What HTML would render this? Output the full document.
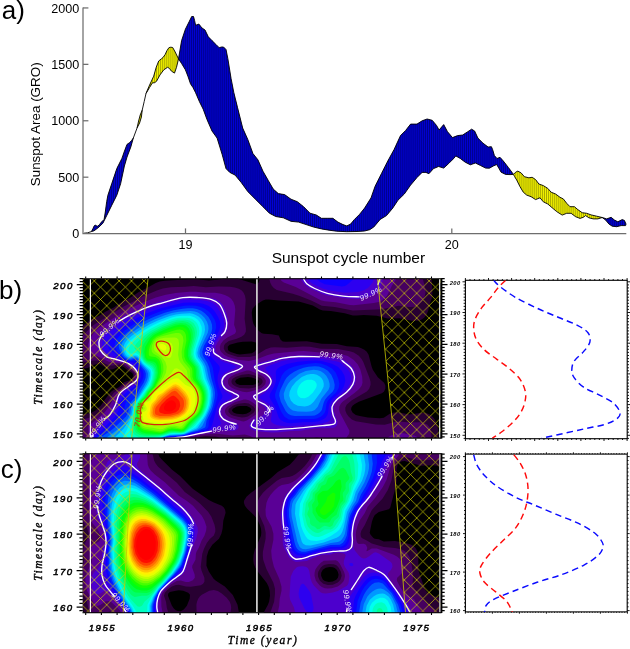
<!DOCTYPE html><html><head><meta charset="utf-8"><title>fig</title><style>html,body{margin:0;padding:0;background:#fff}</style></head><body><div style="will-change:transform;width:630px;height:649px;overflow:hidden"><svg width="630" height="649" viewBox="0 0 630 649" style="display:block;font-family:'Liberation Sans',sans-serif">
<defs>
<pattern id="vh" width="1.95" height="10" patternUnits="userSpaceOnUse"><rect x="0.45" y="0" width="0.68" height="10" fill="#000010" fill-opacity="0.88"/></pattern><pattern id="vhy" width="1.95" height="10" patternUnits="userSpaceOnUse"><rect x="0.4" y="0" width="0.46" height="10" fill="#2a2a00" fill-opacity="0.8"/></pattern>
<pattern id="xh" width="12.4" height="12.4" patternUnits="userSpaceOnUse" patternTransform="translate(94.3,280.9)"><path d="M0,0L12.4,12.4M0,12.4L12.4,0" stroke="#d4d400" stroke-width="0.72" stroke-opacity="0.92" fill="none"/></pattern>
<pattern id="xh2" width="12.4" height="12.4" patternUnits="userSpaceOnUse" patternTransform="translate(94.3,456.0)"><path d="M0,0L12.4,12.4M0,12.4L12.4,0" stroke="#d4d400" stroke-width="0.72" stroke-opacity="0.92" fill="none"/></pattern>
</defs>
<rect width="630" height="649" fill="#fff"/>
<polygon points="91.4,231.6 93.0,228.5 94.0,226.2 95.2,225.0 96.5,225.8 97.8,226.2 99.5,224.5 101.5,222.0 104.1,219.4 105.3,212.0 106.7,201.6 107.9,195.2 111.7,183.8 116.8,168.6 121.9,158.4 124.5,151.0 127.0,144.4 129.5,142.7 131.5,140.6 133.3,138.1 133.3,138.1 130.8,147.0 127.0,157.1 124.4,166.0 120.6,183.8 116.8,195.2 111.7,205.4 106.7,215.6 102.9,223.2 99.0,227.0 96.5,229.0 94.0,230.8 91.4,231.6" fill="#0000f6"/><polygon points="91.4,231.6 93.0,228.5 94.0,226.2 95.2,225.0 96.5,225.8 97.8,226.2 99.5,224.5 101.5,222.0 104.1,219.4 105.3,212.0 106.7,201.6 107.9,195.2 111.7,183.8 116.8,168.6 121.9,158.4 124.5,151.0 127.0,144.4 129.5,142.7 131.5,140.6 133.3,138.1 133.3,138.1 130.8,147.0 127.0,157.1 124.4,166.0 120.6,183.8 116.8,195.2 111.7,205.4 106.7,215.6 102.9,223.2 99.0,227.0 96.5,229.0 94.0,230.8 91.4,231.6" fill="url(#vh)" stroke="#000" stroke-width="0.9" stroke-linejoin="round"/>
<polygon points="137.1,127.9 138.6,121.0 140.2,115.0 142.2,110.2 142.2,110.2 141.4,117.0 139.6,123.0 137.1,127.9" fill="#f4f400"/><polygon points="137.1,127.9 138.6,121.0 140.2,115.0 142.2,110.2 142.2,110.2 141.4,117.0 139.6,123.0 137.1,127.9" fill="url(#vhy)" stroke="#000" stroke-width="0.9" stroke-linejoin="round"/>
<polygon points="146.0,93.5 149.0,86.3 152.0,79.8 153.7,76.2 156.2,67.3 158.7,61.0 161.3,58.9 163.0,57.5 165.1,54.6 167.0,50.5 168.9,47.7 170.8,47.2 172.7,47.5 175.2,52.0 178.5,58.9 178.5,58.9 176.5,67.3 174.5,73.1 171.4,71.1 169.6,68.6 167.6,67.3 163.8,69.8 160.0,74.9 156.5,81.3 154.6,82.7 152.4,82.9 149.5,87.6 146.0,93.5" fill="#f4f400"/><polygon points="146.0,93.5 149.0,86.3 152.0,79.8 153.7,76.2 156.2,67.3 158.7,61.0 161.3,58.9 163.0,57.5 165.1,54.6 167.0,50.5 168.9,47.7 170.8,47.2 172.7,47.5 175.2,52.0 178.5,58.9 178.5,58.9 176.5,67.3 174.5,73.1 171.4,71.1 169.6,68.6 167.6,67.3 163.8,69.8 160.0,74.9 156.5,81.3 154.6,82.7 152.4,82.9 149.5,87.6 146.0,93.5" fill="url(#vhy)" stroke="#000" stroke-width="0.9" stroke-linejoin="round"/>
<polygon points="178.5,58.9 181.6,40.6 185.4,29.2 189.2,21.6 191.7,16.5 193.5,16.5 194.6,20.5 195.6,25.4 197.2,24.6 198.9,24.1 201.9,27.9 205.0,30.0 208.3,36.8 212.0,40.6 215.9,44.4 219.2,47.7 221.5,47.0 223.5,47.0 226.0,49.5 227.8,58.4 231.1,78.7 233.8,92.5 237.6,107.8 242.7,128.1 247.8,139.5 252.9,153.5 257.9,159.8 263.0,171.3 268.1,180.2 273.2,189.0 278.3,193.6 284.6,194.6 291.0,199.2 297.3,201.7 303.7,206.8 310.0,213.2 316.3,215.0 321.4,218.3 327.8,218.3 332.9,218.3 337.9,222.1 343.0,224.6 346.8,225.9 350.6,224.1 354.4,219.5 359.5,214.4 364.6,208.1 371.0,197.9 375.1,186.3 381.4,173.7 387.8,161.0 394.1,149.5 400.5,135.6 405.6,130.5 410.6,124.1 417.0,124.1 422.1,120.8 427.1,119.0 432.2,120.3 436.5,125.4 439.1,130.0 443.7,124.6 447.5,131.7 452.5,137.6 457.6,135.6 462.7,135.0 467.8,131.7 471.6,129.2 474.6,131.0 477.9,138.1 483.0,143.2 488.1,147.0 491.4,146.7 492.6,149.5 494.4,155.6 497.0,158.5 500.0,157.3 503.3,161.0 508.4,167.5 513.5,174.4 513.5,174.4 510.0,174.6 505.6,174.4 501.1,172.2 499.0,168.5 496.7,164.5 493.3,166.0 489.4,168.2 485.6,168.1 480.5,165.5 475.4,163.0 470.3,164.8 465.2,162.2 460.2,158.4 455.8,155.9 453.3,158.9 448.7,163.5 443.7,168.1 438.6,166.5 433.5,168.6 428.9,173.7 425.9,172.4 422.1,172.4 417.0,177.5 410.6,185.1 404.3,194.0 397.9,200.3 392.9,207.9 386.5,215.6 380.2,219.4 373.8,227.0 369.7,229.7 364.6,231.0 357.0,231.5 346.8,231.7 336.7,231.2 329.0,230.2 321.4,228.9 313.8,227.1 306.2,224.6 298.6,222.1 291.0,221.3 283.3,217.8 275.7,216.5 269.4,213.2 263.0,206.8 255.4,199.2 247.8,191.6 241.4,182.7 235.1,175.1 229.8,172.4 226.0,168.6 222.2,154.6 217.1,138.1 212.0,131.0 207.0,119.5 203.2,109.2 199.4,101.6 195.6,92.7 193.0,87.6 190.5,83.8 187.9,76.2 185.4,69.8 181.6,63.5 178.5,58.9" fill="#0000f6"/><polygon points="178.5,58.9 181.6,40.6 185.4,29.2 189.2,21.6 191.7,16.5 193.5,16.5 194.6,20.5 195.6,25.4 197.2,24.6 198.9,24.1 201.9,27.9 205.0,30.0 208.3,36.8 212.0,40.6 215.9,44.4 219.2,47.7 221.5,47.0 223.5,47.0 226.0,49.5 227.8,58.4 231.1,78.7 233.8,92.5 237.6,107.8 242.7,128.1 247.8,139.5 252.9,153.5 257.9,159.8 263.0,171.3 268.1,180.2 273.2,189.0 278.3,193.6 284.6,194.6 291.0,199.2 297.3,201.7 303.7,206.8 310.0,213.2 316.3,215.0 321.4,218.3 327.8,218.3 332.9,218.3 337.9,222.1 343.0,224.6 346.8,225.9 350.6,224.1 354.4,219.5 359.5,214.4 364.6,208.1 371.0,197.9 375.1,186.3 381.4,173.7 387.8,161.0 394.1,149.5 400.5,135.6 405.6,130.5 410.6,124.1 417.0,124.1 422.1,120.8 427.1,119.0 432.2,120.3 436.5,125.4 439.1,130.0 443.7,124.6 447.5,131.7 452.5,137.6 457.6,135.6 462.7,135.0 467.8,131.7 471.6,129.2 474.6,131.0 477.9,138.1 483.0,143.2 488.1,147.0 491.4,146.7 492.6,149.5 494.4,155.6 497.0,158.5 500.0,157.3 503.3,161.0 508.4,167.5 513.5,174.4 513.5,174.4 510.0,174.6 505.6,174.4 501.1,172.2 499.0,168.5 496.7,164.5 493.3,166.0 489.4,168.2 485.6,168.1 480.5,165.5 475.4,163.0 470.3,164.8 465.2,162.2 460.2,158.4 455.8,155.9 453.3,158.9 448.7,163.5 443.7,168.1 438.6,166.5 433.5,168.6 428.9,173.7 425.9,172.4 422.1,172.4 417.0,177.5 410.6,185.1 404.3,194.0 397.9,200.3 392.9,207.9 386.5,215.6 380.2,219.4 373.8,227.0 369.7,229.7 364.6,231.0 357.0,231.5 346.8,231.7 336.7,231.2 329.0,230.2 321.4,228.9 313.8,227.1 306.2,224.6 298.6,222.1 291.0,221.3 283.3,217.8 275.7,216.5 269.4,213.2 263.0,206.8 255.4,199.2 247.8,191.6 241.4,182.7 235.1,175.1 229.8,172.4 226.0,168.6 222.2,154.6 217.1,138.1 212.0,131.0 207.0,119.5 203.2,109.2 199.4,101.6 195.6,92.7 193.0,87.6 190.5,83.8 187.9,76.2 185.4,69.8 181.6,63.5 178.5,58.9" fill="url(#vh)" stroke="#000" stroke-width="0.9" stroke-linejoin="round"/>
<polygon points="513.5,174.4 515.5,172.3 517.8,171.1 521.1,172.9 524.4,176.7 528.9,177.8 532.2,177.3 535.6,179.6 538.9,184.0 543.3,185.6 547.8,188.4 551.1,192.2 555.6,194.0 560.0,197.3 563.3,198.9 566.7,203.3 570.0,206.7 574.4,206.7 577.8,209.6 582.2,212.7 586.7,213.3 591.1,214.9 596.7,216.2 602.2,217.5 602.2,217.5 597.8,218.9 593.3,218.9 588.9,217.8 585.6,215.6 583.3,217.3 580.0,218.4 575.6,216.7 571.1,213.3 566.7,213.3 562.2,215.1 556.7,211.6 552.2,207.8 547.8,204.0 543.3,201.8 540.0,197.8 535.6,199.6 531.1,196.7 526.7,195.1 523.3,192.2 520.0,186.7 516.7,180.0 514.5,176.5 513.5,174.4" fill="#f4f400"/><polygon points="513.5,174.4 515.5,172.3 517.8,171.1 521.1,172.9 524.4,176.7 528.9,177.8 532.2,177.3 535.6,179.6 538.9,184.0 543.3,185.6 547.8,188.4 551.1,192.2 555.6,194.0 560.0,197.3 563.3,198.9 566.7,203.3 570.0,206.7 574.4,206.7 577.8,209.6 582.2,212.7 586.7,213.3 591.1,214.9 596.7,216.2 602.2,217.5 602.2,217.5 597.8,218.9 593.3,218.9 588.9,217.8 585.6,215.6 583.3,217.3 580.0,218.4 575.6,216.7 571.1,213.3 566.7,213.3 562.2,215.1 556.7,211.6 552.2,207.8 547.8,204.0 543.3,201.8 540.0,197.8 535.6,199.6 531.1,196.7 526.7,195.1 523.3,192.2 520.0,186.7 516.7,180.0 514.5,176.5 513.5,174.4" fill="url(#vhy)" stroke="#000" stroke-width="0.9" stroke-linejoin="round"/>
<polygon points="602.2,217.5 606.7,218.9 611.1,217.3 614.4,220.0 617.8,221.8 622.2,219.6 624.4,220.4 626.0,224.0 626.0,224.0 625.6,225.6 621.1,225.6 616.7,226.7 612.2,226.2 608.9,224.0 605.6,220.0 602.2,217.5" fill="#0000f6"/><polygon points="602.2,217.5 606.7,218.9 611.1,217.3 614.4,220.0 617.8,221.8 622.2,219.6 624.4,220.4 626.0,224.0 626.0,224.0 625.6,225.6 621.1,225.6 616.7,226.7 612.2,226.2 608.9,224.0 605.6,220.0 602.2,217.5" fill="url(#vh)" stroke="#000" stroke-width="0.9" stroke-linejoin="round"/>
<polyline points="84.0,233.2 87.5,232.8 91.4,231.6" fill="none" stroke="#000" stroke-width="0.9"/>
<polyline points="133.3,138.1 137.1,127.9" fill="none" stroke="#000" stroke-width="0.9"/>
<polyline points="142.2,110.2 144.2,101.5 146.0,93.5" fill="none" stroke="#000" stroke-width="0.9"/>
<path d="M83,7.4V233.6H626.3" stroke="#6e6e6e" stroke-width="1.25" fill="none"/>
<path d="M83,7.94h5.4" stroke="#6e6e6e" stroke-width="1.25"/>
<text x="79.3" y="12.54" font-size="12.6" text-anchor="end" fill="#000">2000</text>
<path d="M83,64.35h5.4" stroke="#6e6e6e" stroke-width="1.25"/>
<text x="79.3" y="68.95" font-size="12.6" text-anchor="end" fill="#000">1500</text>
<path d="M83,120.77h5.4" stroke="#6e6e6e" stroke-width="1.25"/>
<text x="79.3" y="125.37" font-size="12.6" text-anchor="end" fill="#000">1000</text>
<path d="M83,177.19h5.4" stroke="#6e6e6e" stroke-width="1.25"/>
<text x="79.3" y="181.78" font-size="12.6" text-anchor="end" fill="#000">500</text>
<text x="79.3" y="238.20" font-size="12.6" text-anchor="end" fill="#000">0</text>
<path d="M185.5,233.6v-5.2" stroke="#6e6e6e" stroke-width="1.25"/>
<text x="185.5" y="248.5" font-size="12.6" text-anchor="middle" fill="#000">19</text>
<path d="M451.8,233.6v-5.2" stroke="#6e6e6e" stroke-width="1.25"/>
<text x="451.8" y="248.5" font-size="12.6" text-anchor="middle" fill="#000">20</text>
<text x="348.4" y="262.6" font-size="14.6" text-anchor="middle" textLength="153.5" lengthAdjust="spacingAndGlyphs" fill="#000">Sunspot cycle number</text>
<text transform="translate(40.3,124.3) rotate(-90)" font-size="13.6" text-anchor="middle" textLength="124" lengthAdjust="spacingAndGlyphs" fill="#000">Sunspot Area (GRO)</text>
<text x="1.8" y="19.4" font-size="26" fill="#000">a)</text>
<text x="-1" y="299.4" font-size="26" fill="#000">b)</text>
<text x="0.8" y="477.6" font-size="26" fill="#000">c)</text>
<g><rect x="82.8" y="278.8" width="358.2" height="159.2" fill="#000"/>
<path fill="rgb(40,0,50)" fill-rule="evenodd" d="M181.5,279.8 195.8,279.2 208.8,280.4 217.5,279.8 223.3,278.8 238.1,278.8 255.8,284.2 257.3,283.8 258.4,282.8 259.3,280.8 259.5,278.8 431.6,278.8 432.4,290.8 432.3,295.8 431.8,298.3 430.0,302.8 428.2,310.8 426.5,314.8 424.1,317.8 421.1,319.8 417.8,320.8 411.8,320.8 399.8,318.2 387.8,318.5 376.8,315.7 363.8,315.0 356.8,315.6 352.8,315.5 344.8,313.3 330.8,311.1 322.8,310.4 319.8,309.4 312.8,305.5 298.8,301.5 278.8,300.5 268.8,299.5 265.8,299.6 262.8,300.4 255.8,304.9 252.5,308.8 251.7,312.8 252.6,320.8 253.4,323.8 255.1,326.8 258.8,330.9 261.8,333.2 263.8,333.8 271.8,334.2 278.8,335.4 280.6,339.8 282.8,341.4 285.8,341.8 306.8,341.3 321.8,343.7 336.8,344.0 346.8,346.2 357.8,347.0 360.8,347.9 364.4,349.8 366.8,351.8 368.6,354.8 371.7,366.8 372.8,369.8 377.8,377.2 384.1,382.8 385.4,385.8 385.3,388.8 383.9,391.8 381.8,393.3 358.8,401.7 354.8,403.9 352.5,405.8 351.3,407.8 351.1,409.8 352.7,412.8 355.8,414.9 359.8,416.1 367.8,417.5 379.8,418.3 383.8,417.7 389.8,413.7 393.8,412.4 398.8,412.4 409.8,414.6 421.8,412.7 426.8,413.2 429.8,414.6 431.8,416.1 434.2,418.8 436.0,421.8 437.8,427.8 438.5,437.8 82.8,437.8 82.8,414.3 90.8,413.1 95.2,410.8 100.7,405.8 105.5,398.8 111.1,391.8 113.8,389.8 118.8,387.2 123.8,382.2 130.8,380.1 132.5,377.8 133.1,375.8 132.8,373.9 131.9,372.8 127.8,370.6 123.8,367.0 121.8,366.3 118.7,366.8 112.8,369.3 109.8,369.5 106.8,368.5 100.8,364.6 97.8,364.0 94.2,364.8 87.8,368.0 82.8,368.7 82.8,325.7 90.8,319.6 98.8,315.9 105.8,311.5 113.8,307.6 122.8,301.3 130.2,297.8 138.8,291.9 147.3,287.8 155.8,283.0 159.8,281.6 164.8,280.7ZM242.8,341.8 237.8,342.4 229.6,344.8 227.7,346.8 228.0,349.8 228.8,350.9 230.8,352.1 236.8,354.1 239.8,354.6 251.8,353.2 254.4,351.8 256.1,349.8 257.4,345.8 257.0,343.8 255.8,342.5 251.8,341.6ZM239.8,377.8 236.0,379.8 235.1,381.8 236.6,383.8 239.8,385.0 252.8,385.0 257.0,383.8 258.6,382.8 259.1,381.8 258.9,380.8 257.9,379.8 251.8,377.4 247.8,377.1ZM236.8,406.4 232.8,408.8 231.9,410.8 233.8,412.7 236.8,413.7 242.8,414.2 246.3,413.8 250.2,411.8 251.5,409.8 250.4,407.8 246.8,406.1 239.8,405.9Z"/>
<path fill="rgb(70,0,95)" fill-rule="evenodd" d="M269.3,278.8 422.8,278.8 425.3,288.8 425.5,292.8 424.5,296.8 421.8,301.7 418.8,304.8 414.8,306.8 409.8,307.1 398.8,305.8 381.8,309.3 352.8,310.6 334.8,307.0 321.8,305.7 311.8,300.8 299.8,295.9 292.8,293.8 276.8,289.9 273.8,288.1 271.8,285.8 270.3,282.8ZM185.0,286.8 193.8,286.1 205.8,287.3 218.8,286.4 229.8,286.8 234.8,287.6 238.8,288.7 241.8,290.6 243.6,292.8 245.0,295.8 245.7,299.8 244.6,318.8 245.9,328.8 245.8,331.8 244.2,334.8 241.4,336.8 236.8,338.7 228.8,341.1 225.1,343.8 224.0,345.8 223.8,348.8 225.4,351.8 227.8,353.8 237.8,357.1 249.8,357.1 255.2,355.8 265.8,349.2 270.8,347.5 274.8,347.2 286.8,347.7 302.8,346.4 309.8,346.8 320.8,348.7 337.8,348.9 349.8,351.3 353.8,352.6 358.8,355.8 361.4,358.8 363.2,361.8 369.4,377.8 370.5,381.8 370.6,384.8 369.2,388.8 366.8,391.4 351.8,400.3 346.6,404.8 345.3,407.8 345.4,410.8 346.6,413.8 348.8,416.8 351.8,419.4 355.8,421.3 375.8,424.6 384.8,424.7 394.8,421.9 398.8,421.4 409.8,422.4 419.8,422.3 423.5,422.8 427.5,424.8 429.9,427.8 431.2,431.8 431.5,437.8 220.7,437.8 215.8,436.6 205.8,436.1 199.8,436.8 196.7,437.8 82.8,437.8 82.8,419.6 92.8,416.8 98.8,412.7 103.8,407.6 113.8,392.8 119.8,388.6 124.8,383.9 131.8,381.1 133.8,378.3 134.6,374.8 133.8,372.8 132.9,371.8 128.8,369.1 125.0,365.8 122.8,364.8 119.8,364.6 112.8,365.6 109.8,365.4 106.8,364.4 100.8,361.4 96.8,360.4 93.8,360.5 86.8,362.1 82.8,361.6 82.8,335.0 84.8,333.6 91.4,326.8 95.8,323.5 123.8,306.5 142.8,296.5 156.8,290.4 162.8,288.5 170.8,287.3ZM241.8,374.8 235.8,376.7 232.7,378.8 231.8,380.1 231.4,381.8 231.8,383.3 232.9,384.8 235.8,386.6 239.8,387.9 248.8,388.4 253.8,387.7 258.8,386.1 261.0,384.8 262.5,382.8 262.6,380.8 261.4,378.8 254.8,375.6 248.8,374.1ZM237.8,403.7 232.8,405.8 229.0,408.8 228.5,409.8 228.5,411.8 230.8,414.5 233.7,415.8 237.8,416.8 241.8,417.4 244.8,417.3 247.8,416.4 251.8,414.1 253.8,412.5 254.9,410.8 255.0,408.8 253.7,406.8 248.8,403.6 244.8,402.9Z"/>
<path fill="rgb(90,0,150)" fill-rule="evenodd" d="M280.3,278.8 396.4,278.8 391.9,285.8 387.0,295.8 384.2,298.8 381.8,300.5 378.8,301.9 373.8,303.1 353.8,305.3 349.8,305.0 335.8,302.2 324.8,301.2 320.8,300.3 295.8,287.1 283.8,282.4 281.4,280.8ZM189.5,291.8 195.8,291.8 205.8,292.8 214.8,292.8 220.8,293.7 224.8,294.9 228.5,296.8 231.1,298.8 233.3,301.8 234.8,305.8 235.3,309.8 234.1,324.8 235.8,329.8 236.0,331.8 234.8,333.8 227.8,337.2 223.8,340.0 220.8,343.8 219.8,346.8 220.0,349.8 221.0,351.8 224.1,354.8 227.7,356.8 237.8,359.7 248.8,361.1 256.8,359.2 267.8,355.0 273.8,353.4 297.8,351.2 303.8,351.1 319.8,352.6 333.8,353.1 339.8,353.8 347.8,356.1 353.8,359.9 357.8,364.5 360.4,369.8 362.2,376.8 362.5,382.8 361.6,385.8 359.4,388.8 354.8,392.8 342.6,401.8 340.8,403.8 339.3,406.8 339.1,409.8 339.9,412.8 349.5,430.8 349.2,433.8 346.3,437.8 320.2,437.8 316.8,437.3 313.7,437.8 253.7,437.8 249.4,435.8 244.8,434.5 232.8,435.5 216.8,433.8 202.1,434.8 192.0,436.8 189.5,437.8 84.4,437.8 87.5,434.8 88.6,432.8 88.3,426.8 88.6,425.8 96.8,419.5 105.2,411.8 109.8,405.3 116.2,393.8 125.8,385.6 132.8,382.4 134.8,379.8 136.2,375.8 136.0,373.8 134.8,371.6 125.8,364.4 121.8,363.1 112.8,362.5 108.8,361.7 90.3,352.8 88.3,349.8 87.8,347.8 87.9,344.8 89.5,339.8 92.4,334.8 95.7,330.8 99.0,327.8 115.4,316.8 126.8,310.1 142.8,302.4 155.8,297.6 165.8,294.7 175.8,293.0ZM246.8,370.6 235.8,374.1 230.5,376.8 228.7,378.8 227.9,380.8 228.1,383.8 229.3,385.8 231.8,387.8 234.8,389.2 242.8,391.7 246.8,392.2 250.8,391.5 258.8,389.1 261.8,387.7 264.1,385.8 265.4,383.8 265.9,380.8 265.0,378.8 263.2,376.8 260.8,375.3 250.8,371.0 248.8,370.5ZM243.8,399.6 234.8,402.3 227.1,406.8 225.5,408.8 224.9,410.8 225.2,412.8 226.3,414.8 228.7,416.8 230.8,417.8 241.8,421.3 243.8,421.5 246.8,420.4 257.1,413.8 258.6,411.8 259.0,409.8 258.5,407.8 257.0,405.8 252.8,402.5 248.8,400.2 245.8,399.5ZM396.1,433.8 400.8,433.0 404.8,433.4 414.9,435.8 416.8,436.8 417.4,437.8 387.2,437.8 390.6,435.8Z"/>
<path fill="rgb(76,0,205)" fill-rule="evenodd" d="M300.2,278.8 383.1,278.8 382.0,282.8 379.9,287.8 378.1,290.8 375.8,293.2 372.8,295.1 368.2,296.8 361.8,298.5 356.8,299.0 342.8,297.9 326.8,295.3 322.8,294.2 313.1,289.8 307.6,286.8 304.0,283.8ZM181.4,296.8 197.8,296.4 213.8,298.5 217.8,300.2 220.8,302.4 222.7,304.8 225.1,309.8 226.8,314.5 227.7,318.8 227.9,323.8 227.4,329.8 225.8,332.8 220.8,338.0 217.3,342.8 215.5,346.8 215.3,350.8 217.2,353.8 223.8,358.4 226.8,359.7 241.3,363.8 242.9,364.8 243.4,365.8 242.8,367.7 241.5,368.8 229.3,373.8 226.6,375.8 224.2,378.8 223.6,380.8 223.6,382.8 224.7,385.8 226.2,387.8 229.8,390.5 237.7,393.8 239.0,394.8 239.5,395.8 239.1,396.8 238.0,397.8 226.5,403.8 223.6,405.8 221.5,408.8 221.0,412.8 222.1,415.8 225.8,419.4 228.8,420.8 235.4,422.8 237.1,423.8 238.5,425.8 238.5,427.8 237.8,428.8 235.8,430.2 232.8,430.9 220.8,430.2 216.8,430.5 208.8,432.6 201.8,433.4 190.8,435.7 184.2,437.8 90.4,437.8 95.4,428.8 98.2,424.8 102.3,419.8 107.8,414.8 110.3,411.8 114.8,403.8 118.5,394.8 126.8,387.2 132.8,384.5 134.8,382.8 137.1,378.8 137.9,375.8 137.4,372.8 136.2,370.8 128.8,364.3 123.8,362.1 107.3,357.8 104.0,355.8 99.6,351.8 97.5,348.8 96.5,344.8 97.0,340.8 99.3,335.8 101.5,332.8 103.8,330.8 117.8,320.6 131.5,312.8 148.8,305.3 162.8,301.1ZM293.8,355.8 300.8,355.3 317.8,355.8 339.8,358.4 342.8,359.4 346.5,361.8 350.8,365.3 353.6,368.8 355.4,372.8 356.1,376.8 355.9,380.8 354.6,384.8 352.6,387.8 348.8,391.8 337.5,400.8 335.7,402.8 334.1,405.8 333.7,408.8 334.0,411.8 337.5,421.8 337.4,423.8 336.8,425.5 334.8,427.3 332.8,427.9 316.8,428.2 299.8,430.7 290.8,431.0 279.8,432.3 271.8,432.4 262.5,431.8 255.8,430.9 251.8,429.6 249.9,427.8 249.4,425.8 250.0,423.8 251.3,421.8 253.8,419.6 260.5,416.8 262.8,415.4 265.1,412.8 265.8,410.8 265.5,408.8 264.3,406.8 253.6,398.8 252.5,396.8 252.6,395.8 255.1,393.8 261.8,391.2 264.8,389.3 268.1,385.8 269.6,381.8 269.0,378.8 266.7,375.8 263.8,373.5 257.7,370.8 254.8,368.9 253.7,367.8 253.4,365.8 254.2,364.8 256.2,363.8 278.6,357.8 283.6,356.8Z"/>
<path fill="rgb(45,0,240)" fill-rule="evenodd" d="M308.2,278.8 373.8,278.8 372.8,281.9 370.1,285.8 367.8,287.9 363.8,290.2 357.8,292.1 344.8,292.8 328.8,290.3 322.8,288.6 312.6,283.8 309.8,281.5ZM182.4,299.8 198.8,299.7 206.8,301.1 211.8,302.6 214.8,304.4 217.1,306.8 221.2,313.8 223.4,318.8 224.3,323.8 223.7,328.8 222.2,331.8 213.2,344.8 211.8,348.8 211.7,351.8 212.5,353.8 214.1,355.8 220.8,360.2 224.8,362.2 233.3,364.8 235.1,365.8 235.8,366.8 235.3,367.8 233.8,368.8 228.8,370.6 224.8,372.9 222.0,375.8 220.6,378.8 220.5,382.8 222.4,387.8 225.8,391.7 230.9,394.8 232.0,395.8 232.1,396.8 230.3,398.8 221.8,403.7 219.0,407.8 218.0,411.8 218.1,415.8 218.8,418.3 221.1,422.8 221.2,423.8 220.3,424.8 208.8,431.3 191.8,434.6 179.2,437.8 92.3,437.8 93.8,435.2 104.8,421.9 110.4,416.8 112.8,413.8 117.0,405.8 119.7,396.8 120.9,394.8 127.8,388.3 133.8,385.5 135.8,383.8 138.2,379.8 139.5,375.8 139.3,373.8 137.9,370.8 131.8,364.6 128.4,362.8 108.8,355.3 105.5,352.8 103.4,349.8 102.1,345.8 102.6,340.8 104.5,336.8 107.3,333.8 120.8,323.1 133.8,315.6 149.8,308.7 162.8,304.6ZM295.1,358.8 301.8,358.3 318.8,358.2 335.8,361.2 338.8,362.1 341.8,363.8 347.4,368.8 349.8,372.2 350.8,374.8 351.2,377.8 350.9,380.8 350.0,383.8 347.7,387.8 345.2,390.8 334.9,399.8 332.4,402.8 331.0,406.8 330.6,418.8 329.8,420.2 327.8,421.7 322.8,423.4 315.8,424.6 287.8,426.5 281.8,426.0 276.8,425.0 273.6,423.8 271.3,421.8 270.9,419.8 272.2,411.8 271.3,407.8 269.8,405.5 267.8,403.5 260.3,398.8 259.5,397.8 259.5,396.8 260.4,395.8 264.8,393.1 268.8,389.2 271.3,385.8 272.5,382.8 272.7,379.8 271.8,377.0 265.9,369.8 265.4,368.8 265.6,367.8 268.7,365.8 281.8,361.0Z"/>
<path fill="rgb(15,0,255)" fill-rule="evenodd" d="M316.7,278.8 354.0,278.8 346.8,285.1 344.8,286.0 341.8,286.4 324.8,284.3 319.8,281.8ZM183.1,302.8 189.8,302.4 197.8,302.7 203.1,303.8 208.3,305.8 211.8,308.2 214.8,311.6 218.0,316.8 220.1,321.8 220.4,325.8 219.5,329.8 216.9,334.8 210.3,344.8 209.0,347.8 208.5,350.8 208.8,353.3 210.0,355.8 218.3,364.8 219.6,366.8 219.8,368.8 217.8,375.8 217.5,380.8 218.8,386.7 222.5,395.8 222.2,397.8 218.8,402.8 216.9,406.8 212.2,424.8 210.8,427.8 208.8,429.8 206.8,430.7 201.8,431.5 183.8,436.2 171.7,437.8 93.9,437.8 95.3,435.8 102.2,429.8 114.9,416.8 119.0,409.8 122.2,397.8 123.2,395.8 128.8,390.0 133.8,387.5 136.8,385.0 139.5,380.8 141.1,376.8 141.2,373.8 140.6,371.8 134.5,363.8 132.8,362.8 127.8,361.5 121.2,358.8 109.8,350.2 108.5,347.8 108.1,344.8 108.7,341.8 109.8,339.5 113.0,335.8 122.8,326.8 137.8,317.5 148.8,312.5 160.8,308.2ZM308.8,360.8 316.8,360.4 321.8,361.0 331.9,363.8 337.8,366.8 341.7,370.8 344.5,375.8 345.3,380.8 344.1,385.8 342.6,388.8 339.5,392.8 332.8,398.8 330.3,401.8 328.8,405.8 328.2,411.8 327.5,414.8 325.8,417.6 323.8,419.1 318.8,421.2 313.8,422.1 302.8,422.3 290.8,423.2 286.8,422.8 283.8,421.8 280.8,420.0 278.8,417.8 275.0,406.8 270.2,398.8 269.5,396.8 270.1,393.8 274.1,386.8 275.6,382.8 276.1,379.8 275.8,372.8 276.1,370.8 277.5,368.8 280.2,366.8 286.8,364.0 297.8,361.7Z"/>
<path fill="rgb(0,31,255)" fill-rule="evenodd" d="M184.3,305.8 189.8,305.4 195.8,305.8 200.8,306.9 204.8,308.7 208.8,311.6 211.6,314.8 214.7,319.8 216.0,323.8 216.1,327.8 214.7,332.8 207.3,344.8 205.2,350.8 205.8,354.8 210.7,362.8 212.8,367.8 214.5,379.8 217.2,390.8 217.7,394.8 217.1,398.8 213.4,410.8 208.8,421.4 208.6,425.8 208.0,427.8 205.8,429.5 190.8,433.4 184.8,435.4 170.8,436.7 167.0,437.8 96.2,437.8 97.8,436.0 104.4,431.8 111.8,425.4 122.2,414.8 123.9,411.8 125.0,404.8 127.3,398.8 128.8,396.6 132.8,392.7 139.7,384.8 142.1,380.8 143.5,376.8 143.6,373.8 142.7,370.8 135.8,360.9 134.8,360.5 130.8,361.0 127.8,360.4 123.8,358.8 120.5,355.8 116.4,349.8 114.9,346.8 114.8,343.8 116.3,339.8 121.3,333.8 124.8,330.4 135.8,322.7 141.8,319.3 151.8,314.7 162.8,310.6 172.8,308.0ZM307.8,363.8 315.8,363.1 320.8,363.6 327.1,365.8 332.3,368.8 335.8,372.8 338.3,378.8 339.4,383.8 338.8,387.8 336.0,392.8 330.3,397.8 327.8,400.8 326.5,403.8 325.7,409.8 324.8,412.5 323.2,414.8 320.8,416.7 316.8,418.5 313.8,419.1 301.8,419.1 291.8,419.8 288.8,419.4 284.5,416.8 281.2,411.8 275.3,397.8 275.0,394.8 275.7,391.8 281.8,375.5 284.8,371.4 288.7,368.8 293.7,366.8 300.8,364.9Z"/>
<path fill="rgb(0,92,255)" fill-rule="evenodd" d="M182.7,308.8 187.8,308.2 192.8,308.3 196.8,309.1 201.3,310.8 204.8,313.2 208.3,316.8 210.7,320.8 212.0,324.8 212.2,328.8 211.3,332.8 204.0,345.8 202.2,351.8 202.9,355.8 207.3,362.8 209.3,367.8 211.5,378.8 214.4,388.8 215.0,392.8 214.7,397.8 213.0,405.8 211.4,410.8 206.5,420.8 205.5,426.8 204.7,427.8 197.8,430.7 190.8,432.6 184.8,434.8 180.8,435.5 170.8,436.0 166.8,436.8 165.0,437.8 99.9,437.8 107.8,432.8 113.8,428.3 125.8,416.8 128.1,412.8 130.0,403.8 131.2,401.8 135.8,396.8 139.2,389.8 143.8,382.5 145.6,377.8 145.9,373.8 144.9,370.8 140.0,364.8 136.8,359.4 134.8,358.7 130.8,359.8 128.8,359.7 124.8,358.0 122.5,355.8 119.6,349.8 118.7,346.8 119.1,342.8 120.6,339.8 123.8,335.7 127.8,332.1 137.8,325.1 144.8,321.1 154.8,316.5 164.8,312.7 173.8,310.3ZM308.4,366.8 314.8,366.2 318.8,366.5 323.8,368.2 327.9,370.8 331.3,374.8 333.5,379.8 334.7,384.8 334.3,388.8 332.6,391.8 327.4,396.8 325.0,399.8 323.7,402.8 321.8,410.0 319.8,412.6 317.8,414.1 314.8,415.4 311.8,415.8 294.8,415.9 290.8,415.3 288.1,413.8 285.8,411.2 280.8,401.8 279.3,395.8 279.5,392.8 280.4,389.8 284.8,380.5 286.8,377.6 289.7,374.8 294.1,371.8 298.8,369.4 303.6,367.8Z"/>
<path fill="rgb(0,152,255)" fill-rule="evenodd" d="M178.9,311.8 190.8,310.9 194.8,311.5 197.8,312.6 201.4,314.8 204.5,317.8 207.0,321.8 208.3,325.8 208.5,328.8 207.8,332.8 200.8,347.4 199.7,350.8 199.5,353.8 200.4,356.8 204.5,362.8 206.3,366.8 208.8,378.1 212.4,388.8 213.0,394.8 212.0,402.8 210.8,407.8 202.4,425.8 200.5,427.8 197.2,429.8 191.8,431.4 184.8,434.3 180.8,435.0 169.8,435.5 165.8,436.5 163.6,437.8 106.5,437.8 119.8,427.7 123.8,423.7 127.8,418.7 130.2,413.8 131.3,406.8 132.3,403.8 137.2,397.8 144.9,384.8 146.8,380.9 147.8,377.2 148.0,373.8 147.0,370.8 140.9,363.8 137.8,358.6 136.8,357.8 134.8,357.4 130.8,358.6 128.8,358.6 126.7,357.8 124.3,355.8 122.7,352.8 121.4,347.8 121.5,344.8 122.7,341.8 125.7,337.8 128.9,334.8 137.8,328.4 144.8,324.2 154.8,319.3 164.8,315.3 171.8,313.1ZM313.7,369.8 317.8,370.2 320.8,371.3 323.8,373.2 326.3,375.8 328.5,379.8 329.6,383.8 329.6,386.8 328.5,389.8 321.3,398.8 317.7,406.8 314.8,409.9 311.8,411.2 306.8,411.7 297.8,411.6 292.8,410.4 290.3,408.8 287.8,406.0 284.2,398.8 283.7,393.8 285.8,387.7 288.1,383.8 290.5,380.8 299.4,373.8 305.8,370.9Z"/>
<path fill="rgb(0,213,255)" fill-rule="evenodd" d="M181.5,313.8 189.8,313.3 192.8,313.8 195.8,314.9 198.9,316.8 201.8,319.8 203.6,322.8 204.6,325.8 205.0,329.8 204.3,333.8 198.5,347.8 197.3,352.8 198.0,356.8 202.2,362.8 204.2,366.8 206.8,378.8 210.1,386.8 211.1,390.8 211.3,395.8 210.2,404.8 208.9,408.8 205.7,415.8 197.7,427.8 195.8,429.0 183.8,434.1 169.8,434.9 165.8,435.9 162.1,437.8 114.5,437.8 123.8,428.6 128.8,421.1 131.5,414.8 133.4,404.8 137.8,398.8 146.8,384.8 148.6,380.8 149.7,375.8 149.7,372.8 148.8,370.4 142.3,363.8 137.8,357.0 136.8,356.4 134.8,356.1 129.8,357.5 127.8,357.0 125.8,355.3 124.4,352.8 123.6,348.8 123.9,345.8 124.8,343.3 127.3,339.8 131.8,335.8 141.8,328.9 149.8,324.3 157.8,320.5 169.8,315.9 175.8,314.4ZM306.9,374.8 310.8,374.1 313.8,374.1 316.8,374.8 319.8,376.5 321.8,378.6 323.1,380.8 323.8,383.8 323.6,386.8 321.0,391.8 313.7,401.8 310.8,404.6 308.2,405.8 304.8,406.4 297.8,405.8 293.8,403.8 290.8,400.4 289.2,395.8 289.6,391.8 291.9,386.8 296.0,381.8 301.8,377.1Z"/>
<path fill="rgb(0,255,241)" fill-rule="evenodd" d="M182.8,315.8 189.8,315.7 194.8,317.4 197.8,319.8 199.5,321.8 201.6,326.8 201.9,330.8 201.3,334.8 196.2,348.8 195.5,353.8 196.5,357.8 200.8,363.8 202.3,366.8 204.9,378.8 208.5,386.8 209.6,390.8 209.9,395.8 209.1,403.8 208.0,407.8 205.4,413.8 202.8,418.2 195.8,427.2 183.8,433.6 169.8,434.3 164.4,435.8 160.5,437.8 122.8,437.8 126.8,430.0 131.8,418.6 132.8,414.5 133.6,407.8 134.5,404.8 148.5,384.8 150.4,379.8 151.3,374.8 151.1,371.8 150.4,369.8 142.8,362.9 139.8,357.8 137.8,355.5 134.8,354.7 129.8,356.0 127.5,354.8 126.3,352.8 125.7,349.8 125.9,347.8 126.8,345.0 129.8,341.1 134.9,336.8 144.8,329.8 152.8,325.3 159.8,322.0 171.8,317.4 176.8,316.3ZM307.5,379.8 311.8,379.7 314.8,381.0 316.6,383.8 316.7,385.8 316.1,387.8 312.8,392.7 308.3,396.8 304.8,398.3 300.8,397.9 298.8,396.6 297.6,394.8 297.1,391.8 297.7,388.8 299.1,385.8 301.6,382.8 304.6,380.8Z"/>
<path fill="rgb(0,255,194)" fill-rule="evenodd" d="M179.9,317.8 187.8,317.8 191.9,318.8 195.9,321.8 197.4,323.8 198.7,326.8 199.3,330.8 199.0,334.8 194.3,349.8 193.8,353.8 194.8,357.8 199.1,363.8 200.7,366.8 203.1,378.8 206.9,386.8 208.2,390.8 208.6,394.8 208.2,401.8 206.4,408.8 202.8,416.3 194.8,425.8 192.5,427.8 184.7,432.8 180.8,433.6 173.8,433.3 169.8,433.7 157.9,437.8 131.9,437.8 130.1,434.8 129.8,430.8 130.8,425.8 133.3,417.8 134.3,408.8 135.1,405.8 136.7,402.8 143.0,394.8 149.9,384.8 152.0,378.8 152.8,372.8 151.5,368.8 143.8,362.6 138.8,354.7 135.8,353.0 130.8,353.7 129.1,352.8 128.4,350.8 128.8,347.7 130.8,344.4 134.4,340.8 143.0,333.8 149.8,329.2 158.8,324.5 169.8,320.1 174.8,318.5Z"/>
<path fill="rgb(0,255,148)" fill-rule="evenodd" d="M177.5,319.8 184.8,319.5 189.8,320.5 193.8,323.3 196.3,327.8 197.0,331.8 196.7,335.8 192.7,349.8 192.4,354.8 193.8,358.8 197.6,363.8 199.2,366.8 201.4,378.8 205.5,386.8 207.0,390.8 207.5,394.8 207.4,398.8 206.1,406.8 203.1,413.8 200.8,417.2 191.8,426.8 184.8,432.2 180.8,433.1 170.8,432.9 159.8,436.2 150.6,437.8 139.8,437.7 134.6,434.8 133.0,432.8 132.4,430.8 132.4,426.8 134.5,417.8 135.4,407.8 137.5,402.8 143.8,395.2 146.5,390.8 150.8,385.4 153.2,378.8 154.1,372.8 153.6,369.8 152.6,367.8 150.8,366.1 146.8,363.8 144.3,361.8 139.8,353.7 134.7,348.8 134.5,346.8 136.2,343.8 139.9,339.8 145.4,334.8 150.8,330.9 162.8,324.8 171.8,321.2Z"/>
<path fill="rgb(0,255,104)" fill-rule="evenodd" d="M176.1,321.8 182.8,321.1 187.8,322.0 191.8,324.7 194.2,328.8 194.9,332.8 194.6,336.8 191.2,349.8 191.0,354.8 192.2,358.8 197.8,366.8 198.6,369.8 199.8,378.8 204.2,386.8 205.8,390.8 206.4,394.8 206.4,398.8 205.0,406.8 202.6,412.8 199.9,416.8 188.1,428.8 183.8,432.0 180.8,432.5 174.8,432.0 170.8,432.2 161.8,435.0 156.8,435.8 145.8,436.1 139.8,435.1 136.0,432.8 134.8,430.8 134.2,428.8 134.1,424.8 135.5,417.8 135.4,412.8 135.9,408.8 137.2,404.8 139.0,401.8 144.4,395.8 146.8,391.7 151.7,385.8 154.4,378.8 155.4,372.8 154.7,368.8 152.9,365.8 146.8,362.6 143.8,359.6 139.5,348.8 139.6,345.8 141.1,342.8 144.5,338.8 148.5,334.8 151.8,332.4 162.8,326.7Z"/>
<path fill="rgb(0,255,63)" fill-rule="evenodd" d="M175.2,323.8 180.8,322.9 185.8,323.5 189.7,325.8 192.1,329.8 192.8,333.8 192.7,337.8 189.6,350.8 189.6,355.8 191.2,359.8 196.4,366.8 197.2,369.8 197.5,375.8 198.1,378.8 202.9,386.8 204.6,390.8 205.4,394.8 205.4,398.8 204.0,406.8 202.1,411.8 199.6,415.8 191.4,423.8 186.0,429.8 183.8,431.4 180.8,432.0 174.8,431.3 170.8,431.4 162.8,434.1 158.8,434.9 147.8,434.8 141.8,434.0 137.8,431.8 136.4,429.8 135.7,427.8 135.3,424.8 136.4,417.8 136.1,412.8 136.4,409.8 138.0,404.8 139.6,401.8 141.8,399.2 144.8,396.6 147.6,391.8 151.4,387.8 152.7,385.8 155.9,377.8 156.7,372.8 156.0,367.8 154.4,364.8 152.8,363.6 146.8,361.3 144.5,358.8 142.5,351.8 142.5,346.8 143.8,343.8 147.4,338.8 152.7,333.8 162.8,328.5Z"/>
<path fill="rgb(0,255,21)" fill-rule="evenodd" d="M179.4,324.8 182.8,324.8 186.0,325.8 188.8,328.4 190.3,331.8 190.8,334.8 190.8,338.8 188.2,349.8 188.0,355.8 189.4,359.8 195.0,366.8 195.8,369.8 195.9,375.8 196.4,378.8 201.6,386.8 203.7,391.8 204.4,395.8 204.4,399.8 202.7,407.8 201.1,411.8 198.8,415.3 190.8,422.8 185.9,428.8 183.5,430.8 180.8,431.3 171.8,430.5 168.8,431.1 161.8,433.8 158.8,434.1 146.8,433.4 141.8,432.3 138.3,429.8 136.6,425.8 136.5,422.8 137.2,417.8 136.7,412.8 137.1,409.8 139.1,403.8 140.3,401.8 142.0,399.8 145.7,396.8 147.8,392.7 153.1,386.8 157.1,377.8 158.0,372.8 157.3,366.8 155.8,363.2 153.8,361.7 147.8,360.5 146.7,359.8 145.3,357.8 144.3,351.8 145.2,346.8 149.8,338.8 154.1,334.8 159.8,331.7 167.8,328.3 174.8,325.8Z"/>
<path fill="rgb(23,255,0)" fill-rule="evenodd" d="M180.2,326.8 182.8,327.0 185.8,328.7 187.3,330.8 188.4,333.8 188.8,339.8 186.3,350.8 186.4,356.8 188.1,360.8 192.6,365.8 193.8,367.8 194.7,378.8 200.3,386.8 202.6,391.8 203.4,395.8 203.4,399.8 202.8,403.9 201.4,408.8 200.1,411.8 198.1,414.8 189.4,422.8 184.8,428.8 182.8,430.3 180.8,430.6 174.8,429.6 171.8,429.5 167.8,430.5 162.8,432.8 159.8,433.3 146.8,432.0 142.8,431.0 139.5,428.8 137.6,424.8 138.1,417.8 137.3,412.8 137.8,409.8 139.8,403.8 140.9,401.8 142.8,399.8 145.8,397.8 148.5,392.8 154.1,386.8 158.4,377.8 159.5,372.8 159.0,365.8 158.1,362.8 157.0,360.8 154.8,359.3 148.8,359.1 146.8,357.5 146.3,355.8 146.2,352.8 147.6,346.8 151.1,339.8 152.8,337.7 155.3,335.8 169.0,329.8 175.8,327.6Z"/>
<path fill="rgb(69,255,0)" fill-rule="evenodd" d="M176.7,329.8 179.8,329.5 182.8,330.2 184.8,332.3 185.9,334.8 186.4,340.8 184.3,350.8 184.3,356.8 185.8,360.8 191.8,368.0 192.4,370.8 192.4,376.8 193.4,379.8 199.0,386.8 201.4,391.8 202.1,394.8 202.4,398.8 201.8,403.7 200.7,407.8 199.0,411.8 196.9,414.8 188.8,421.9 183.8,428.5 181.8,429.6 171.8,428.4 167.8,429.4 162.8,431.9 159.8,432.4 143.8,429.8 140.8,428.1 138.7,424.8 138.4,422.8 138.9,417.8 138.0,413.8 138.2,410.8 139.8,407.8 140.5,403.8 141.6,401.8 143.7,399.8 146.9,397.8 149.4,392.8 155.0,386.8 159.8,377.8 161.3,371.8 160.8,364.8 160.0,361.8 158.8,359.6 155.8,357.2 149.8,356.3 148.8,355.1 148.8,350.8 150.0,345.8 153.0,339.8 156.5,336.8 163.8,333.8Z"/>
<path fill="rgb(114,255,0)" fill-rule="evenodd" d="M171.7,333.8 175.8,333.0 178.8,333.0 180.8,333.8 182.8,336.5 183.5,340.8 181.6,351.8 182.0,357.8 183.7,361.8 189.5,368.8 190.1,370.8 190.3,376.8 191.3,379.8 196.9,385.8 199.8,390.9 200.8,394.2 201.2,397.8 200.8,402.8 199.9,406.8 198.4,410.8 196.5,413.8 187.5,421.8 183.8,426.8 181.8,428.3 179.8,428.4 174.8,427.2 170.8,427.3 167.8,428.1 162.5,430.8 159.8,431.2 144.8,428.5 142.8,427.7 140.8,426.1 139.4,422.8 139.7,417.8 138.7,413.8 138.7,411.8 139.6,409.8 141.3,407.8 141.2,403.8 143.4,400.8 147.8,398.0 149.8,393.4 156.0,386.8 161.9,376.8 163.5,370.8 163.2,364.8 161.3,359.8 158.8,356.8 153.6,353.8 151.8,351.8 151.5,348.8 152.2,344.8 154.1,340.8 156.8,338.3 160.8,336.6Z"/>
<path fill="rgb(156,255,0)" fill-rule="evenodd" d="M164.9,337.8 174.8,337.4 176.8,338.1 178.5,339.8 179.1,343.8 178.1,354.8 179.0,359.8 180.6,362.8 186.8,370.3 188.0,377.8 188.7,379.8 194.8,385.3 197.8,389.6 199.6,394.8 199.9,399.8 198.6,406.8 195.8,412.8 185.8,421.8 181.8,426.3 179.8,426.7 174.8,425.6 170.8,425.7 167.8,426.5 162.8,428.9 159.8,429.3 152.8,427.7 145.8,427.0 142.7,425.8 141.6,424.8 140.6,422.8 140.6,417.8 139.4,412.8 140.0,410.8 142.7,408.8 143.1,407.8 142.0,404.8 142.5,402.8 144.5,400.8 148.3,398.8 150.5,393.8 156.5,387.8 163.6,377.8 166.0,372.8 166.8,366.8 165.4,361.8 161.6,356.8 154.8,351.0 153.8,347.8 154.4,343.8 156.1,340.8 159.8,338.7Z"/>
<path fill="rgb(194,255,0)" fill-rule="evenodd" d="M159.6,340.8 162.8,340.4 166.8,340.9 169.8,342.1 171.8,343.8 172.8,346.8 172.7,350.8 171.5,355.8 170.8,357.2 169.9,357.8 167.8,357.7 164.8,356.3 158.8,351.5 156.8,349.1 156.1,346.8 156.4,343.8 157.7,341.8ZM174.4,368.8 176.8,368.3 181.8,370.8 183.8,373.5 185.0,378.8 185.8,380.8 187.8,382.8 193.2,385.8 196.2,389.8 197.9,394.8 198.3,398.8 197.5,404.8 195.4,410.8 193.8,413.1 188.8,417.5 180.8,423.4 169.8,424.1 161.8,426.1 152.8,425.1 145.8,424.9 143.8,424.4 142.8,423.7 141.8,422.0 141.6,417.8 140.4,412.8 140.8,411.5 143.9,409.8 144.8,408.8 144.8,407.8 143.1,404.8 143.5,402.8 144.8,401.6 148.8,399.7 151.6,393.8 157.0,388.8 160.8,384.2 166.2,378.8 170.8,373.8Z"/>
<path fill="rgb(231,255,0)" fill-rule="evenodd" d="M160.8,343.8 163.8,344.2 165.8,345.8 166.5,347.8 165.8,350.1 163.8,350.8 160.5,348.8 159.8,347.8 159.3,345.8 159.8,344.4ZM173.6,378.8 176.8,378.3 178.8,378.8 185.1,384.8 191.8,387.7 193.5,389.8 195.2,394.8 195.7,398.8 194.8,405.3 192.8,411.0 186.8,417.0 180.8,420.1 175.8,421.6 161.8,423.4 144.7,421.8 143.8,420.7 141.9,413.8 142.0,412.8 142.8,412.1 144.8,411.5 146.5,409.8 146.7,407.8 144.6,403.8 145.1,402.8 148.8,401.2 150.5,399.8 152.3,394.8 155.3,391.8 162.8,385.7 170.8,380.1Z"/>
<path fill="rgb(255,240,0)" fill-rule="evenodd" d="M172.5,382.8 175.8,382.0 178.8,383.0 188.7,391.8 191.0,396.8 191.6,400.8 191.2,405.8 189.6,410.8 187.4,413.8 185.1,415.8 178.8,419.0 173.8,420.6 159.8,421.6 151.8,420.2 148.7,418.8 147.5,417.8 146.6,415.8 148.5,409.8 148.6,403.8 153.0,399.8 154.3,395.8 155.8,393.6 157.8,392.3 161.8,390.9 164.8,388.2Z"/>
<path fill="rgb(255,198,0)" fill-rule="evenodd" d="M173.3,384.8 175.8,384.3 179.1,385.8 185.3,391.8 187.9,395.8 189.3,399.8 189.4,403.8 188.4,408.8 186.8,411.8 184.8,414.1 180.8,416.7 176.8,418.5 172.8,419.5 159.8,420.3 154.8,419.4 151.8,418.3 150.3,416.8 149.6,413.8 150.5,406.8 151.7,403.8 155.6,399.8 157.8,395.8 158.8,394.9 162.8,392.8 166.8,389.2Z"/>
<path fill="rgb(255,157,0)" fill-rule="evenodd" d="M173.1,386.8 175.8,386.3 178.8,387.7 183.8,392.9 186.5,396.8 187.6,399.8 187.8,403.8 187.1,407.8 185.1,411.8 183.1,413.8 178.8,416.4 171.8,418.4 159.8,419.0 155.8,418.3 152.8,417.1 151.7,415.8 151.3,412.8 151.9,407.8 153.1,404.8 159.8,396.8 168.5,389.8Z"/>
<path fill="rgb(255,113,0)" fill-rule="evenodd" d="M173.0,388.8 175.8,388.3 177.8,389.3 182.2,393.8 185.0,397.8 186.1,400.8 186.2,403.8 185.5,407.8 184.1,410.8 182.2,412.8 179.3,414.8 173.1,416.8 167.8,417.6 159.8,417.7 154.8,416.5 153.2,414.8 152.8,412.8 153.3,408.8 154.4,405.8 161.8,397.5 169.8,390.8Z"/>
<path fill="rgb(255,63,0)" fill-rule="evenodd" d="M171.8,391.8 174.8,390.8 176.8,391.7 182.8,398.5 183.8,400.8 184.1,403.8 183.7,406.8 182.5,409.8 180.8,411.8 178.0,413.8 170.2,415.8 159.8,416.0 155.9,414.8 155.2,413.8 154.9,411.8 155.3,408.8 156.2,406.8 163.4,398.8Z"/>
<path fill="rgb(255,14,0)" fill-rule="evenodd" d="M172.7,395.8 173.8,395.8 175.8,396.9 178.5,399.8 179.6,401.8 180.2,405.8 178.7,409.8 175.8,412.2 170.5,413.8 164.8,414.0 160.3,412.8 159.4,411.8 159.1,409.8 159.6,407.8 161.4,404.8 166.8,399.2 170.8,396.5Z"/>
<path fill="rgb(255,0,0)" fill-rule="evenodd" d="M169.4,400.8 171.8,400.3 173.5,400.8 174.7,401.8 175.9,403.8 176.0,406.8 175.1,408.8 172.8,410.6 169.8,411.5 166.8,411.3 164.4,409.8 164.0,408.8 164.1,406.8 165.8,403.6Z"/>
<path fill="rgb(255,0,0)" fill-rule="evenodd" d="M168.8,404.8 170.8,404.1 171.8,404.7 172.2,405.8 171.9,406.8 170.8,407.8 168.8,407.6 168.2,406.8Z"/></g>
<path d="M91.3,437.6 L92.6,435.6" fill="none" stroke="#fff" stroke-width="1.35" stroke-linecap="round"/><path d="M104.5,419.0C105.4,418.3 108.2,416.9 110.0,414.6C111.8,412.3 113.9,408.4 115.5,405.0C117.1,401.6 117.2,397.1 119.5,393.9C121.8,390.7 126.1,388.4 129.0,386.0C131.9,383.6 135.7,382.0 137.0,379.6C138.3,377.2 138.3,374.3 137.0,371.7C135.7,369.1 132.7,365.9 129.0,363.8C125.3,361.7 118.4,360.2 114.7,359.0C111.0,357.8 109.2,358.2 106.8,356.8C104.4,355.4 101.8,352.8 100.5,350.4C99.2,348.0 98.8,344.8 98.9,342.5C99.0,340.2 100.2,338.1 101.0,336.5C101.8,334.9 103.2,333.6 103.6,333.0" fill="none" stroke="#fff" stroke-width="1.35" stroke-linecap="round"/><path d="M119.5,321.0C121.3,319.9 126.1,316.9 130.6,314.7C135.1,312.5 141.2,309.6 146.5,307.6C151.8,305.6 156.3,304.5 162.4,302.8C168.5,301.1 176.9,298.6 183.0,297.7C189.1,296.8 194.1,297.4 198.9,297.7C203.7,298.0 208.2,298.5 211.6,299.6C215.0,300.7 217.4,302.0 219.5,304.4C221.6,306.8 223.1,310.7 224.3,313.9C225.5,317.1 226.6,320.5 226.7,323.4C226.8,326.3 226.0,329.4 225.1,331.4C224.2,333.4 222.1,334.8 221.5,335.5" fill="none" stroke="#fff" stroke-width="1.35" stroke-linecap="round"/><path d="M213.5,349.0C213.6,349.7 213.0,351.7 214.0,353.0C215.0,354.3 218.1,355.8 219.5,356.8C220.9,357.8 220.8,358.2 222.7,359.0C224.5,359.8 227.9,360.6 230.6,361.4C233.3,362.2 237.0,363.2 239.0,364.0C241.0,364.8 242.3,365.3 242.5,366.1C242.7,366.9 241.2,368.0 240.0,368.8C238.8,369.6 237.8,369.9 235.4,370.9C233.1,371.9 228.2,373.2 225.9,374.9C223.7,376.6 222.0,378.9 221.9,381.2C221.8,383.4 223.1,386.4 225.1,388.4C227.1,390.4 231.6,391.8 233.8,393.1C236.1,394.4 238.9,395.1 238.6,396.3C238.3,397.5 234.8,398.9 232.2,400.3C229.5,401.8 224.8,403.1 222.7,405.0C220.6,406.9 219.5,409.1 219.5,411.4C219.5,413.6 220.8,416.6 222.7,418.5C224.5,420.4 228.3,421.6 230.6,422.5C232.8,423.4 235.3,423.8 236.2,424.1" fill="none" stroke="#fff" stroke-width="1.35" stroke-linecap="round"/><path d="M165.0,438.5C168.0,438.2 177.3,437.6 183.0,436.8C188.7,436.0 194.1,434.5 198.9,433.6C203.7,432.7 209.5,431.6 211.6,431.2" fill="none" stroke="#fff" stroke-width="1.35" stroke-linecap="round"/><path d="M319.5,356.8C316.1,356.8 305.0,356.3 298.9,356.5C292.8,356.7 287.5,357.4 283.0,358.2C278.5,359.0 275.6,360.3 271.9,361.4C268.2,362.5 263.7,363.7 260.8,364.6C257.9,365.5 254.7,365.8 254.4,366.9C254.1,367.9 257.1,369.6 259.2,370.9C261.3,372.2 265.1,373.2 267.1,374.9C269.1,376.6 271.1,378.9 271.1,381.2C271.1,383.4 269.1,386.4 267.1,388.4C265.1,390.4 261.4,391.8 259.2,393.1C256.9,394.4 253.9,395.0 253.6,396.3C253.3,397.6 255.6,399.6 257.6,401.0C259.6,402.4 263.5,403.5 265.5,405.0C267.5,406.5 269.0,408.6 269.5,409.8C270.0,411.1 268.7,412.1 268.5,412.5" fill="none" stroke="#fff" stroke-width="1.35" stroke-linecap="round"/><path d="M254.0,420.0C253.6,420.9 250.7,424.2 251.3,425.7C251.9,427.2 254.2,428.1 257.6,428.8C261.0,429.5 267.7,429.5 271.9,429.6C276.1,429.7 277.7,429.5 283.0,429.2C288.3,428.9 297.0,428.2 303.6,427.6C310.2,427.0 317.7,426.3 322.7,425.7C327.7,425.1 331.7,424.9 333.8,424.1C335.9,423.3 335.5,422.5 335.4,420.9C335.3,419.3 333.5,417.0 333.0,414.6C332.5,412.2 331.5,409.1 332.2,406.6C332.9,404.1 334.6,401.9 337.0,399.5C339.4,397.1 343.9,394.8 346.5,392.3C349.1,389.8 351.5,387.0 352.8,384.4C354.1,381.8 354.6,379.1 354.4,376.5C354.1,373.9 352.9,370.8 351.3,368.5C349.7,366.2 346.4,364.3 344.9,363.0C343.3,361.7 342.5,360.9 342.0,360.5" fill="none" stroke="#fff" stroke-width="1.35" stroke-linecap="round"/><path d="M303.6,279.0C304.1,279.8 305.0,282.2 306.8,283.8C308.6,285.4 311.3,286.9 314.7,288.5C318.1,290.1 322.6,292.0 327.4,293.3C332.2,294.6 338.0,295.5 343.3,296.1C348.6,296.7 356.6,296.7 359.2,296.8" fill="none" stroke="#fff" stroke-width="1.35" stroke-linecap="round"/><path d="M378.0,284.5 L379.8,279.0" fill="none" stroke="#fff" stroke-width="1.35" stroke-linecap="round"/><path d="M178.4,372.4C180.8,371.9 181.2,373.4 183.0,374.9C184.8,376.4 187.2,378.8 189.3,381.2C191.4,383.6 194.2,386.5 195.7,389.2C197.2,391.9 197.8,394.5 198.1,397.1C198.4,399.7 198.0,402.4 197.3,405.0C196.6,407.6 195.7,410.8 194.1,413.0C192.5,415.2 189.7,417.2 187.8,418.5C186.0,419.8 186.7,420.0 183.0,421.0C179.3,422.0 171.1,423.9 165.5,424.4C159.9,424.9 153.7,424.6 149.7,424.1C145.7,423.7 143.1,423.3 141.5,421.7C139.9,420.1 140.3,417.4 140.3,414.6C140.3,411.8 140.1,408.2 141.7,405.0C143.3,401.8 146.8,398.7 149.7,395.5C152.6,392.3 156.0,388.9 159.2,386.0C162.4,383.1 165.5,380.3 168.7,378.0C171.9,375.7 176.0,372.9 178.4,372.4Z" fill="none" stroke="#d8230a" stroke-width="1.25"/><path d="M163.5,341.3C165.3,341.6 167.3,342.3 168.5,343.5C169.7,344.7 170.4,346.8 170.5,348.5C170.6,350.2 169.9,352.3 169.0,353.5C168.1,354.7 166.4,355.8 165.0,355.5C163.6,355.2 161.9,353.6 160.5,352.0C159.1,350.4 157.0,347.7 156.5,346.0C156.0,344.3 156.3,342.8 157.5,342.0C158.7,341.2 161.7,341.1 163.5,341.3Z" fill="none" stroke="#d8230a" stroke-width="1.25"/><text transform="translate(111,329.5) rotate(-42)" font-size="7.6" font-family="Liberation Sans" font-style="italic" font-weight="normal" fill="#fff" fill-opacity="0.9" text-anchor="middle" letter-spacing="0.45">99.9%</text><text transform="translate(213,345.5) rotate(-72)" font-size="7.6" font-family="Liberation Sans" font-style="italic" font-weight="normal" fill="#fff" fill-opacity="0.9" text-anchor="middle" letter-spacing="0.45">99.9%</text><text transform="translate(224.5,431) rotate(-8)" font-size="7.6" font-family="Liberation Sans" font-style="italic" font-weight="normal" fill="#fff" fill-opacity="0.9" text-anchor="middle" letter-spacing="0.45">99.9%</text><text transform="translate(99.3,428.3) rotate(-55)" font-size="7.6" font-family="Liberation Sans" font-style="italic" font-weight="normal" fill="#fff" fill-opacity="0.9" text-anchor="middle" letter-spacing="0.45">99.9%</text><text transform="translate(267,417) rotate(-50)" font-size="7.6" font-family="Liberation Sans" font-style="italic" font-weight="normal" fill="#fff" fill-opacity="0.9" text-anchor="middle" letter-spacing="0.45">99.9%</text><text transform="translate(331,358) rotate(8)" font-size="7.6" font-family="Liberation Sans" font-style="italic" font-weight="normal" fill="#fff" fill-opacity="0.9" text-anchor="middle" letter-spacing="0.45">99.9%</text><text transform="translate(372,296) rotate(-25)" font-size="7.6" font-family="Liberation Sans" font-style="italic" font-weight="normal" fill="#fff" fill-opacity="0.9" text-anchor="middle" letter-spacing="0.45">99.9%</text><text transform="translate(141.6,415) rotate(-80)" font-size="8.2" font-family="Liberation Sans" font-style="italic" font-weight="bold" fill="#b8400a" fill-opacity="0.9" text-anchor="middle" letter-spacing="0.45">70.0%</text>
<polygon points="82.8,278.8 148.0,278.8 131.7,438.0 82.8,438.0" fill="url(#xh)"/>
<polygon points="377.5,278.8 441.0,278.8 441.0,438.0 394.0,438.0" fill="url(#xh)"/>
<path d="M148,278.8L131.7,438M377.5,278.8L394,438" stroke="#c8c800" stroke-width="0.8" fill="none"/>
<path d="M90.4,278.8V438" stroke="#fff" stroke-width="1.15"/><path d="M256.9,278.8V438" stroke="#d4d4d4" stroke-width="1.7"/>
<path d="M83.0,436.9h-3.4M83.0,433.9h-6.2M83.0,431.0h-3.4M83.0,428.0h-3.4M83.0,425.0h-3.4M83.0,422.0h-3.4M83.0,419.0h-3.4M83.0,416.0h-3.4M83.0,413.1h-3.4M83.0,410.1h-3.4M83.0,407.1h-3.4M83.0,404.1h-6.2M83.0,401.1h-3.4M83.0,398.1h-3.4M83.0,395.1h-3.4M83.0,392.2h-3.4M83.0,389.2h-3.4M83.0,386.2h-3.4M83.0,383.2h-3.4M83.0,380.2h-3.4M83.0,377.2h-3.4M83.0,374.2h-6.2M83.0,371.3h-3.4M83.0,368.3h-3.4M83.0,365.3h-3.4M83.0,362.3h-3.4M83.0,359.3h-3.4M83.0,356.3h-3.4M83.0,353.4h-3.4M83.0,350.4h-3.4M83.0,347.4h-3.4M83.0,344.4h-6.2M83.0,341.4h-3.4M83.0,338.4h-3.4M83.0,335.4h-3.4M83.0,332.5h-3.4M83.0,329.5h-3.4M83.0,326.5h-3.4M83.0,323.5h-3.4M83.0,320.5h-3.4M83.0,317.5h-3.4M83.0,314.6h-6.2M83.0,311.6h-3.4M83.0,308.6h-3.4M83.0,305.6h-3.4M83.0,302.6h-3.4M83.0,299.6h-3.4M83.0,296.6h-3.4M83.0,293.7h-3.4M83.0,290.7h-3.4M83.0,287.7h-3.4M83.0,284.7h-6.2M83.0,281.7h-3.4M83.0,278.7h-3.4" stroke="#000" stroke-width="1.25"/><text x="73.7" y="288.80" font-size="9.6" font-family="'Liberation Sans',sans-serif" font-style="italic" font-weight="normal" stroke="#000" stroke-width="0.5" letter-spacing="1.45" text-anchor="end">200</text><text x="73.7" y="318.65" font-size="9.6" font-family="'Liberation Sans',sans-serif" font-style="italic" font-weight="normal" stroke="#000" stroke-width="0.5" letter-spacing="1.45" text-anchor="end">190</text><text x="73.7" y="348.50" font-size="9.6" font-family="'Liberation Sans',sans-serif" font-style="italic" font-weight="normal" stroke="#000" stroke-width="0.5" letter-spacing="1.45" text-anchor="end">180</text><text x="73.7" y="378.35" font-size="9.6" font-family="'Liberation Sans',sans-serif" font-style="italic" font-weight="normal" stroke="#000" stroke-width="0.5" letter-spacing="1.45" text-anchor="end">170</text><text x="73.7" y="408.20" font-size="9.6" font-family="'Liberation Sans',sans-serif" font-style="italic" font-weight="normal" stroke="#000" stroke-width="0.5" letter-spacing="1.45" text-anchor="end">160</text><text x="73.7" y="438.05" font-size="9.6" font-family="'Liberation Sans',sans-serif" font-style="italic" font-weight="normal" stroke="#000" stroke-width="0.5" letter-spacing="1.45" text-anchor="end">150</text>
<path d="M439.7,278.8V438" stroke="#dcdcdc" stroke-width="1.4"/><path d="M441.6,278.3V438.5" stroke="#000" stroke-width="1.6"/>
<path d="M441.3,436.9h3.4M441.3,433.9h6.2M441.3,431.0h3.4M441.3,428.0h3.4M441.3,425.0h3.4M441.3,422.0h3.4M441.3,419.0h3.4M441.3,416.0h3.4M441.3,413.1h3.4M441.3,410.1h3.4M441.3,407.1h3.4M441.3,404.1h6.2M441.3,401.1h3.4M441.3,398.1h3.4M441.3,395.1h3.4M441.3,392.2h3.4M441.3,389.2h3.4M441.3,386.2h3.4M441.3,383.2h3.4M441.3,380.2h3.4M441.3,377.2h3.4M441.3,374.2h6.2M441.3,371.3h3.4M441.3,368.3h3.4M441.3,365.3h3.4M441.3,362.3h3.4M441.3,359.3h3.4M441.3,356.3h3.4M441.3,353.4h3.4M441.3,350.4h3.4M441.3,347.4h3.4M441.3,344.4h6.2M441.3,341.4h3.4M441.3,338.4h3.4M441.3,335.4h3.4M441.3,332.5h3.4M441.3,329.5h3.4M441.3,326.5h3.4M441.3,323.5h3.4M441.3,320.5h3.4M441.3,317.5h3.4M441.3,314.6h6.2M441.3,311.6h3.4M441.3,308.6h3.4M441.3,305.6h3.4M441.3,302.6h3.4M441.3,299.6h3.4M441.3,296.6h3.4M441.3,293.7h3.4M441.3,290.7h3.4M441.3,287.7h3.4M441.3,284.7h6.2M441.3,281.7h3.4M441.3,278.7h3.4" stroke="#000" stroke-width="1.25"/>
<path d="M82.5,278.7H441.5M82.5,438.1H441.5" stroke="#000" stroke-width="1.1"/>
<path d="M85.7,278.4v-2.0M101.4,278.4v-2.0M117.1,278.4v-2.0M132.8,278.4v-2.0M148.6,278.4v-2.0M164.3,278.4v-2.0M180.0,278.4v-2.0M195.7,278.4v-2.0M211.4,278.4v-2.0M227.2,278.4v-2.0M242.9,278.4v-2.0M258.6,278.4v-2.0M274.3,278.4v-2.0M290.0,278.4v-2.0M305.8,278.4v-2.0M321.5,278.4v-2.0M337.2,278.4v-2.0M352.9,278.4v-2.0M368.6,278.4v-2.0M384.4,278.4v-2.0M400.1,278.4v-2.0M415.8,278.4v-2.0M431.5,278.4v-2.0" stroke="#000" stroke-width="1.1"/>
<path d="M85.7,438.4v2.0M101.4,438.4v2.0M117.1,438.4v2.0M132.8,438.4v2.0M148.6,438.4v2.0M164.3,438.4v2.0M180.0,438.4v2.0M195.7,438.4v2.0M211.4,438.4v2.0M227.2,438.4v2.0M242.9,438.4v2.0M258.6,438.4v2.0M274.3,438.4v2.0M290.0,438.4v2.0M305.8,438.4v2.0M321.5,438.4v2.0M337.2,438.4v2.0M352.9,438.4v2.0M368.6,438.4v2.0M384.4,438.4v2.0M400.1,438.4v2.0M415.8,438.4v2.0M431.5,438.4v2.0" stroke="#000" stroke-width="1.1"/>
<text transform="translate(42.3,357.5) rotate(-90)" font-size="11.5" font-family="'Liberation Serif',serif" font-style="italic" font-weight="normal" stroke="#000" stroke-width="0.35" text-anchor="middle" textLength="94.5">Timescale (day)</text>
<g><rect x="82.8" y="453.8" width="358.2" height="158.8" fill="#000"/>
<path fill="rgb(40,0,50)" fill-rule="evenodd" d="M82.8,453.8 158.2,453.8 159.4,456.8 161.8,459.6 171.8,469.4 179.8,475.8 192.7,488.8 208.8,500.0 213.8,502.6 221.8,505.8 223.8,507.4 225.1,509.8 225.6,512.8 223.3,520.8 222.6,528.8 221.4,533.8 219.0,538.8 212.3,544.8 208.5,550.8 206.7,556.8 206.4,565.8 208.8,571.6 213.6,578.8 215.9,580.8 224.8,586.5 232.8,595.0 237.5,604.8 238.9,612.8 84.2,612.8 82.8,609.0ZM175.8,590.7 169.8,592.0 168.1,593.8 168.0,595.8 171.8,605.4 173.8,608.5 175.8,610.2 177.8,611.1 180.8,611.2 183.8,609.5 186.9,605.8 189.7,598.8 190.0,594.8 188.2,592.8 183.2,590.8 178.8,590.2ZM298.4,454.8 300.3,453.8 440.8,453.8 440.8,466.3 432.8,465.3 420.8,465.8 404.8,460.9 401.8,461.2 398.8,463.1 397.3,465.8 396.6,468.8 396.7,479.8 396.2,484.8 390.2,507.8 388.8,509.2 378.8,512.0 374.8,515.1 373.3,517.8 371.9,521.8 369.7,532.8 370.6,534.8 373.2,537.8 374.7,538.8 378.8,539.2 383.8,541.5 394.8,541.0 403.8,542.5 410.8,544.5 413.1,545.8 415.3,547.8 417.1,550.8 418.2,554.8 418.5,570.8 424.4,587.8 425.8,590.8 427.8,592.8 431.8,594.9 440.8,598.4 440.8,612.8 263.6,612.8 267.8,605.1 269.1,601.8 270.0,595.8 269.7,590.8 268.6,586.8 266.8,583.1 257.9,571.8 255.3,567.8 253.8,563.8 253.3,559.8 253.6,554.8 254.5,550.8 261.0,535.8 261.3,532.8 261.0,528.8 259.8,524.8 256.8,518.6 253.8,514.9 247.2,508.8 244.9,505.8 243.9,502.8 244.0,500.8 246.5,496.8 251.0,492.8 270.8,478.3 277.8,471.9 289.8,464.8 294.5,459.8ZM325.8,567.7 322.8,569.7 321.2,572.8 321.1,575.8 322.8,579.4 324.8,580.9 328.8,582.0 332.8,581.5 336.3,579.8 337.9,577.8 338.6,574.8 337.8,571.8 336.7,569.8 334.8,568.1 332.8,567.3 329.8,567.0Z"/>
<path fill="rgb(70,0,95)" fill-rule="evenodd" d="M85.5,453.8 152.5,453.8 154.2,460.8 155.8,463.8 158.1,466.8 176.8,482.8 184.8,492.1 195.8,500.1 200.2,503.8 208.1,511.8 211.4,516.8 214.5,524.8 215.3,528.8 215.3,531.8 213.8,535.6 209.8,539.1 206.8,543.1 204.0,548.8 202.3,553.8 200.7,566.8 201.6,570.8 204.4,577.8 204.4,581.8 203.1,583.8 200.8,585.3 190.8,586.7 185.8,586.6 178.8,584.7 175.8,584.9 171.8,586.5 167.8,589.4 164.8,592.8 164.0,595.8 166.0,601.8 166.8,607.8 168.3,612.8 113.6,612.8 112.4,611.8 110.8,611.4 108.8,611.7 107.5,612.8 90.0,612.8 88.2,607.8 86.4,599.8 84.8,596.7 82.8,594.5 82.8,564.6 83.9,562.8 84.3,559.8 83.2,549.8 84.5,544.8 88.3,536.8 88.8,533.8 87.2,528.8 82.8,520.7 82.8,460.0 84.8,456.8ZM312.2,453.8 440.8,453.8 440.8,459.8 418.8,460.0 414.8,459.4 407.8,457.4 404.8,457.1 400.8,458.2 397.8,460.4 395.8,462.8 394.0,466.8 391.4,480.8 387.8,490.1 382.4,498.8 373.8,507.7 371.4,510.8 364.8,524.9 361.3,530.8 360.5,533.8 360.8,536.5 361.8,538.1 366.8,540.4 371.8,543.6 383.8,547.1 394.8,548.1 399.8,549.1 403.8,550.6 406.8,552.8 409.8,557.6 411.4,563.8 413.2,574.8 412.6,583.8 413.2,586.8 415.1,589.8 424.8,600.9 436.2,610.8 437.8,612.8 270.3,612.8 274.1,601.8 275.0,593.8 275.0,588.8 273.4,582.8 266.3,568.8 263.2,559.8 262.8,555.8 262.9,551.8 265.6,538.8 265.7,532.8 264.2,525.8 260.1,516.8 258.0,510.8 257.1,505.8 257.6,501.8 259.3,497.8 263.0,492.8 267.1,488.8 276.8,480.8 281.8,478.1 289.8,476.7 292.8,475.7 295.8,474.0 300.8,470.0 304.8,465.9 308.8,460.8 311.2,456.8ZM324.8,564.7 322.8,565.7 320.8,567.5 318.3,571.8 317.9,573.8 318.1,576.8 319.9,580.8 323.3,583.8 327.8,585.1 332.8,584.8 337.8,582.6 340.4,579.8 341.7,575.8 340.9,571.8 338.7,567.8 336.8,565.6 333.8,564.2 328.8,564.0ZM209.3,590.8 213.8,589.9 217.8,591.0 221.8,593.4 226.7,597.8 229.7,601.8 230.8,604.8 231.2,607.8 230.5,612.8 196.6,612.8 196.4,604.8 197.0,601.8 198.2,598.8 199.8,596.5 201.8,594.7Z"/>
<path fill="rgb(90,0,150)" fill-rule="evenodd" d="M93.7,454.8 93.8,453.8 147.0,453.8 147.8,464.8 148.9,467.8 150.9,470.8 154.8,474.5 164.8,482.3 178.9,495.8 186.6,500.8 193.0,505.8 201.8,515.8 204.5,520.8 206.5,526.8 206.1,530.8 204.4,535.8 201.5,540.8 198.8,547.7 196.5,551.8 195.9,553.8 195.5,559.8 192.2,565.8 192.2,567.8 194.7,574.8 194.8,577.8 192.8,580.2 188.8,582.0 185.8,582.1 180.8,580.4 176.8,581.1 170.8,584.4 164.8,589.9 162.0,593.8 161.2,597.8 161.4,606.8 162.6,612.8 121.3,612.8 119.8,610.2 112.8,603.5 110.8,601.8 108.8,600.9 105.8,601.3 99.8,605.2 96.8,606.1 94.8,604.8 87.0,590.8 85.4,584.8 85.4,578.8 86.7,572.8 90.8,564.8 91.9,561.8 91.9,558.8 90.5,551.8 90.8,548.8 91.6,546.8 93.4,544.8 98.6,541.8 99.6,540.8 100.4,537.8 100.1,534.8 98.8,531.5 96.8,528.3 92.1,522.8 90.5,519.8 89.7,516.8 89.0,510.8 88.5,499.8 89.1,471.8 89.8,467.8ZM316.7,454.8 316.9,453.8 400.0,453.8 394.8,459.8 391.5,464.8 389.8,468.8 386.6,479.8 383.0,486.8 376.1,496.8 367.6,506.8 364.8,513.1 359.8,520.3 357.8,525.0 356.2,530.8 355.8,534.8 356.3,539.8 356.8,542.0 357.8,543.4 358.8,543.9 363.8,543.7 365.9,544.8 367.3,547.8 366.5,550.8 366.8,551.3 371.8,548.6 376.8,548.5 393.8,554.8 397.4,556.8 399.6,558.8 402.4,563.8 403.3,569.8 402.4,572.8 397.2,577.8 396.8,579.8 397.4,581.8 400.8,587.9 403.8,592.2 406.8,594.8 412.3,597.8 414.5,599.8 421.5,612.8 277.7,612.8 279.2,605.8 279.7,598.8 281.5,590.8 281.5,586.8 279.3,578.8 273.9,566.8 271.8,558.1 271.2,550.8 273.4,539.8 273.4,533.8 271.5,526.8 266.8,518.2 265.8,515.5 265.5,509.8 266.5,502.8 268.1,498.8 270.6,494.8 274.1,490.8 278.5,486.8 281.8,484.9 288.8,483.8 292.8,482.0 296.8,479.2 303.8,472.7 311.8,463.3ZM323.8,560.8 320.8,562.7 317.2,566.8 315.3,569.8 314.6,572.8 314.5,575.8 315.9,580.8 319.8,585.5 321.8,586.9 324.8,588.2 327.8,588.6 331.8,588.3 337.8,586.4 340.8,584.3 343.2,581.8 344.2,579.8 344.9,576.8 344.9,574.8 344.0,571.8 339.8,563.8 337.8,561.2 335.8,560.3Z"/>
<path fill="rgb(76,0,205)" fill-rule="evenodd" d="M125.8,453.8 140.1,453.8 140.0,457.8 136.9,463.8 137.2,465.8 138.2,467.8 143.1,472.8 184.7,507.8 193.5,518.8 197.7,527.8 197.8,531.8 196.3,538.8 191.8,548.9 189.6,556.8 186.8,563.8 185.2,570.8 182.8,574.1 169.8,583.2 161.5,591.8 158.8,598.7 158.2,601.8 157.9,606.8 158.7,612.8 124.9,612.8 123.8,610.4 117.9,603.8 112.8,596.4 108.8,592.4 106.8,591.1 104.8,590.7 99.8,593.7 96.8,594.2 93.8,592.4 92.7,590.8 91.6,587.8 91.3,581.8 92.0,575.8 93.8,572.4 97.9,568.8 99.8,565.8 101.9,557.8 102.1,550.8 103.8,547.3 104.8,542.8 104.6,537.8 103.8,533.0 101.3,525.8 97.6,517.8 95.5,506.8 95.5,496.8 98.0,483.8 99.8,478.4 107.8,461.2 109.8,460.1 116.8,458.2 123.4,455.8ZM320.2,453.8 395.2,453.8 393.6,456.8 387.1,465.8 382.8,477.6 379.4,483.8 371.5,495.8 363.4,505.8 357.8,514.8 354.8,522.4 353.4,529.8 353.1,533.8 353.3,545.8 353.8,548.6 354.8,550.6 359.1,555.8 361.8,557.9 363.8,558.4 365.8,558.2 368.8,556.5 373.7,552.8 375.8,552.3 379.3,553.8 390.8,562.0 392.1,563.8 392.5,566.8 391.1,569.8 388.3,572.8 388.0,574.8 388.7,576.8 391.2,581.8 408.8,605.8 410.9,609.8 411.9,612.8 295.0,612.8 294.1,607.8 290.1,599.8 289.5,595.8 290.7,576.8 293.4,570.8 296.8,567.3 298.8,566.5 302.8,566.3 305.8,566.7 307.8,567.9 309.2,570.8 310.6,578.8 312.0,582.8 313.8,585.4 318.8,590.8 320.8,592.4 322.8,593.2 325.8,593.5 332.8,592.6 337.8,591.0 346.9,585.8 348.3,583.8 348.7,581.8 349.4,576.8 349.0,573.8 348.2,571.8 344.8,566.8 343.7,563.8 343.9,560.8 345.6,555.8 345.5,554.8 344.6,553.8 341.8,552.9 338.8,552.7 334.8,553.1 329.8,554.7 321.8,554.7 311.8,558.5 306.8,561.1 295.8,562.0 291.8,560.1 288.8,556.9 284.0,547.8 283.0,544.8 282.7,540.8 283.0,533.8 281.5,523.8 280.6,513.8 284.4,497.8 286.0,494.8 291.8,487.8 298.8,481.5 308.8,471.4 314.8,463.8 319.0,456.8Z"/>
<path fill="rgb(45,0,240)" fill-rule="evenodd" d="M321.7,454.8 321.9,453.8 392.0,453.8 390.8,456.3 384.8,463.8 379.8,476.9 371.8,490.8 356.8,512.3 353.1,521.8 351.8,529.8 351.0,541.8 350.2,544.8 348.8,547.2 346.7,548.8 343.8,549.9 331.8,550.6 320.8,552.5 310.8,555.4 305.8,557.5 296.8,557.4 293.8,556.0 291.7,553.8 288.4,547.8 286.7,542.8 283.3,514.8 283.5,510.8 285.4,501.8 287.5,496.8 293.7,488.8 308.8,473.8 315.3,465.8 320.4,457.8ZM119.5,465.8 124.8,465.7 127.8,466.6 130.8,468.2 141.8,476.2 159.8,490.7 180.8,509.0 186.4,514.8 190.9,520.8 194.4,528.8 194.7,532.8 194.0,537.8 190.8,545.8 184.1,567.8 182.8,570.2 180.6,572.8 168.8,582.9 160.6,591.8 157.8,598.1 156.8,601.8 156.2,606.8 156.7,612.8 126.8,612.8 125.3,609.8 119.3,602.8 114.8,595.5 109.2,587.8 106.6,582.8 105.1,578.8 103.5,571.8 103.3,568.8 104.9,556.8 105.2,550.8 106.5,543.8 106.5,539.8 105.6,532.8 101.5,517.8 99.9,509.8 99.2,502.8 99.5,496.8 102.4,484.8 106.7,476.8 109.6,472.8 112.8,469.7 115.8,467.4ZM349.3,563.8 350.8,562.9 351.8,563.0 353.0,563.8 353.3,564.8 352.9,565.8 351.8,566.2 350.2,565.8 349.3,564.8ZM370.9,572.8 374.8,572.5 378.8,573.2 383.8,576.1 386.8,578.6 390.8,584.6 395.7,590.8 402.7,601.8 406.8,608.8 408.1,612.8 349.2,612.8 349.6,607.8 349.1,599.8 350.3,595.8 363.8,577.1 366.8,574.5ZM302.2,583.8 303.8,584.1 305.8,586.2 309.8,591.8 311.1,594.8 313.6,607.8 313.3,609.8 312.0,612.8 307.5,612.8 304.6,608.8 299.2,597.8 298.6,593.8 299.1,589.8 300.8,585.1Z"/>
<path fill="rgb(15,0,255)" fill-rule="evenodd" d="M323.4,453.8 387.1,453.8 382.3,460.8 377.1,475.8 370.4,488.8 361.6,502.8 356.8,509.1 353.1,516.8 350.9,525.8 349.4,539.8 348.5,542.8 346.8,545.5 344.8,547.2 341.8,548.4 330.8,548.8 318.8,551.3 304.8,555.7 297.8,555.2 295.1,553.8 292.8,551.2 290.6,546.8 289.2,541.8 285.2,514.8 285.3,509.8 287.2,500.8 288.7,497.8 295.7,488.8 308.8,475.7 316.2,466.8 322.0,457.8ZM118.5,470.8 120.8,470.1 123.8,469.8 126.8,470.3 129.8,471.5 138.8,477.2 155.8,490.4 184.8,516.0 189.3,521.8 192.3,528.8 192.8,532.8 192.2,537.8 189.7,544.8 187.3,553.8 183.2,566.8 179.5,571.8 168.8,581.9 159.8,591.8 156.8,598.2 155.7,601.8 154.9,606.8 155.2,612.8 128.2,612.8 126.8,609.8 120.3,601.8 111.7,587.8 109.3,582.8 107.1,575.8 106.0,570.8 105.7,565.8 106.5,550.8 107.8,543.8 107.9,539.8 103.0,511.8 102.4,503.8 102.6,497.8 104.6,488.8 107.7,481.8 112.8,474.9 115.8,472.4ZM374.6,575.8 377.8,576.1 380.8,577.1 384.8,579.3 386.4,580.8 389.8,586.0 395.3,592.8 402.3,604.8 404.6,609.8 405.5,612.8 352.8,612.8 354.1,599.8 355.6,595.8 359.4,588.8 363.8,582.5 367.2,578.8 370.8,576.6Z"/>
<path fill="rgb(0,31,255)" fill-rule="evenodd" d="M324.7,454.8 324.9,453.8 376.7,453.8 377.0,462.8 375.7,469.8 373.0,477.8 367.6,488.8 363.1,495.8 359.7,502.8 355.1,508.8 351.8,515.8 350.8,518.8 349.5,525.8 348.3,536.8 346.8,541.2 344.8,544.2 343.0,545.8 340.8,546.8 330.8,546.9 324.8,548.6 318.8,549.6 305.2,553.8 299.8,553.5 296.8,552.1 294.7,549.8 293.2,546.8 291.7,541.8 287.2,516.8 287.0,509.8 288.6,501.8 289.9,498.8 293.8,494.3 296.9,489.8 309.8,476.7 317.3,467.8 323.1,458.8ZM121.7,473.8 126.8,473.8 133.8,476.9 138.8,480.2 155.8,493.1 184.2,517.8 188.0,522.8 190.8,529.8 191.2,533.8 190.6,537.8 186.3,553.8 182.3,565.8 177.9,571.8 162.3,587.8 159.1,591.8 155.6,598.8 154.2,603.8 153.7,606.8 153.9,612.8 129.5,612.8 128.2,609.8 121.2,600.8 113.7,587.8 111.0,581.8 108.4,572.8 107.5,566.8 107.7,551.8 109.2,540.8 105.4,512.8 105.1,503.8 105.6,497.8 107.9,488.8 111.6,481.8 116.0,476.8 118.8,474.9ZM375.3,578.8 377.8,578.9 381.8,580.0 383.8,581.0 385.8,582.8 388.3,586.8 392.8,592.0 394.7,594.8 400.2,604.8 403.0,612.8 356.0,612.8 357.7,600.8 362.0,590.8 364.8,586.6 368.8,581.9 371.8,579.8Z"/>
<path fill="rgb(0,92,255)" fill-rule="evenodd" d="M326.4,453.8 371.6,453.8 372.8,463.8 371.8,471.8 369.4,478.8 365.8,486.5 360.8,494.7 358.2,501.8 354.4,506.8 350.4,514.8 349.4,517.8 348.0,525.8 346.8,535.5 345.0,539.8 342.9,542.8 339.8,544.8 330.8,545.1 305.8,551.7 301.8,551.8 299.3,550.8 297.1,548.8 295.8,546.6 294.6,542.8 289.1,516.8 288.9,509.8 290.4,501.8 291.3,499.8 295.6,494.8 298.8,490.1 311.6,476.8 319.1,467.8 324.2,459.8ZM121.2,477.8 123.8,477.1 126.8,477.2 132.8,479.3 138.8,482.9 153.8,493.9 182.8,518.5 187.0,523.8 189.4,529.8 189.8,533.8 189.4,537.8 185.3,553.8 181.6,564.8 179.8,567.8 174.0,574.8 167.8,581.0 158.8,591.1 155.2,597.8 153.2,603.8 152.6,606.8 152.8,612.8 130.6,612.8 128.8,608.8 121.9,599.8 115.3,587.8 112.3,580.8 110.0,572.8 109.0,566.8 108.8,551.8 110.3,540.8 107.4,515.8 107.7,500.8 109.1,493.8 112.1,486.8 116.6,480.8ZM374.7,582.8 378.8,582.3 382.8,583.4 391.8,593.3 398.1,604.8 400.5,612.8 359.0,612.8 360.6,602.8 363.9,594.8 366.3,590.8 369.8,586.5 371.8,584.6Z"/>
<path fill="rgb(0,152,255)" fill-rule="evenodd" d="M328.2,453.8 367.6,453.8 369.1,464.8 368.9,468.8 367.8,473.8 364.3,482.8 357.9,493.8 356.0,500.8 352.1,506.8 348.7,513.8 344.9,533.8 343.8,536.5 341.8,539.6 339.8,541.3 337.8,542.1 330.8,542.9 323.8,545.1 309.8,548.6 305.8,549.2 302.8,549.0 300.8,548.0 299.6,546.8 297.4,541.8 291.7,516.8 291.3,510.8 292.2,503.8 293.4,500.8 300.8,490.8 307.7,482.8 312.7,477.8 321.0,467.8 326.0,459.8ZM124.7,480.8 129.8,481.2 134.8,483.1 138.8,485.4 153.8,496.0 182.8,520.4 186.1,524.8 188.3,530.8 188.6,534.8 188.0,538.8 184.5,553.8 180.8,564.2 178.6,567.8 173.8,573.8 158.3,590.8 154.3,597.8 152.1,603.8 151.6,606.8 151.7,612.8 131.7,612.8 130.7,609.8 123.3,599.8 116.9,587.8 113.5,579.8 110.9,569.8 110.4,565.8 109.9,550.8 111.2,543.8 111.4,539.8 109.1,515.8 110.0,501.8 111.8,494.3 115.1,487.8 119.8,482.8 121.8,481.7ZM378.0,588.8 380.8,588.6 383.8,589.5 387.8,592.3 390.4,594.8 392.8,598.6 395.8,604.8 397.8,612.8 362.1,612.8 363.8,604.0 367.3,596.8 369.8,593.8 372.8,591.2 375.8,589.5Z"/>
<path fill="rgb(0,213,255)" fill-rule="evenodd" d="M330.3,453.8 363.6,453.8 365.5,464.8 365.2,469.8 364.2,474.8 362.0,480.8 355.8,491.8 353.2,500.8 347.1,511.8 343.8,527.2 342.3,531.8 340.8,534.4 338.8,536.4 336.6,537.8 323.8,542.6 310.8,545.4 305.8,545.3 303.1,543.8 301.8,541.7 297.3,525.8 295.0,513.8 295.5,504.8 296.7,501.8 303.6,490.8 324.0,466.8 327.5,460.8ZM124.3,484.8 128.8,484.2 134.8,485.8 138.8,487.9 151.8,496.5 166.8,508.4 181.4,520.8 185.3,525.8 187.1,530.8 187.3,536.8 184.1,551.8 180.3,562.8 178.1,566.8 172.8,573.8 158.8,589.0 153.9,596.8 150.5,605.8 150.6,612.8 132.8,612.8 131.3,608.8 124.8,599.8 118.5,587.8 114.7,578.8 112.1,568.8 111.1,550.8 112.4,543.8 112.6,539.8 111.2,527.8 110.6,517.8 111.6,505.8 113.4,497.8 115.8,492.4 119.8,487.5ZM379.6,593.8 382.8,593.6 384.8,594.0 388.8,596.8 390.9,599.8 393.1,604.8 394.9,612.8 365.4,612.8 366.7,605.8 369.8,599.8 373.8,596.2 376.8,594.6Z"/>
<path fill="rgb(0,255,241)" fill-rule="evenodd" d="M332.7,453.8 359.7,453.8 362.0,464.8 361.8,469.8 360.5,476.8 359.1,480.8 353.8,491.2 350.9,500.8 345.3,510.8 343.2,521.8 341.1,526.8 339.3,529.8 336.8,532.1 330.8,536.0 323.8,539.4 316.8,541.0 310.8,540.6 307.8,539.1 305.8,536.6 303.2,531.8 301.0,525.8 299.1,514.8 300.0,503.8 304.1,494.8 307.0,489.8 326.6,466.8 329.8,460.8ZM127.2,487.8 131.8,487.7 136.8,489.3 152.8,499.1 166.8,510.0 180.8,521.9 184.5,526.8 186.2,531.8 186.2,536.8 183.3,551.8 179.7,561.8 177.6,565.8 172.7,572.8 158.1,588.8 152.9,596.8 149.4,604.8 149.3,612.8 134.3,612.8 132.2,607.8 125.7,598.8 120.6,588.8 116.3,578.8 113.4,567.8 112.4,550.8 113.7,539.8 112.4,527.8 112.2,518.8 113.4,507.8 115.4,499.8 117.8,494.8 121.8,490.4 124.8,488.6ZM380.3,597.8 382.8,597.7 384.8,598.2 387.8,600.7 390.7,606.8 391.6,612.8 368.8,612.8 369.8,606.8 372.0,602.8 375.8,599.5Z"/>
<path fill="rgb(0,255,194)" fill-rule="evenodd" d="M335.4,453.8 355.9,453.8 358.3,464.8 357.9,474.8 357.3,478.8 353.5,486.8 348.6,501.8 343.7,509.8 341.8,519.5 337.8,526.8 335.8,529.1 332.8,531.1 322.5,535.8 318.8,536.9 314.8,536.8 311.8,535.6 308.8,533.1 306.3,529.8 304.4,525.8 302.1,514.8 303.1,503.8 309.0,490.8 315.9,481.8 328.1,468.8 331.4,462.8ZM130.3,490.8 135.8,491.5 144.8,495.9 151.8,500.2 164.8,509.9 180.9,523.8 183.7,527.8 185.2,532.8 185.0,537.8 182.4,551.8 178.8,561.8 171.7,572.8 163.1,582.8 158.1,587.8 151.6,596.8 147.5,604.8 147.0,612.8 137.1,612.8 136.8,612.4 132.2,604.8 127.0,597.8 122.4,588.8 117.7,577.8 114.6,565.8 113.7,550.8 114.9,539.8 113.7,524.8 114.0,516.8 115.1,509.8 117.4,501.8 120.8,496.0 123.0,493.8 125.8,492.0ZM378.0,602.8 381.8,602.2 384.8,603.7 387.2,607.8 388.0,612.8 372.2,612.8 372.8,608.8 373.8,606.4 375.8,604.1Z"/>
<path fill="rgb(0,255,148)" fill-rule="evenodd" d="M338.7,453.8 351.8,453.8 353.7,459.8 354.4,463.8 355.2,476.8 354.8,479.8 351.5,485.8 350.5,491.8 347.0,501.8 342.2,508.8 340.4,517.8 334.8,526.6 332.8,528.5 330.8,529.4 324.8,529.5 319.8,532.6 317.8,533.0 315.8,532.8 312.8,531.3 309.8,528.8 307.8,526.2 306.8,523.8 304.6,514.8 305.9,502.8 309.1,497.8 310.9,491.8 314.5,487.8 316.8,483.6 320.9,479.8 324.7,474.8 328.9,471.8 330.7,469.8ZM128.1,494.8 131.8,493.9 136.8,494.6 144.8,497.9 152.8,502.6 165.8,512.2 179.2,523.8 182.4,527.8 184.1,532.8 184.0,537.8 181.5,551.8 178.8,559.5 176.7,563.8 170.8,572.7 163.1,581.8 157.8,586.9 153.8,592.4 148.8,598.0 144.4,601.8 142.0,605.8 139.8,606.8 137.8,606.5 136.8,605.8 130.8,599.3 127.8,595.1 123.8,587.5 119.6,577.8 116.9,568.8 116.0,563.8 115.2,550.8 116.2,538.8 115.2,525.8 116.2,514.8 118.3,506.8 120.8,501.3 123.8,497.5ZM377.8,608.8 379.8,607.9 381.7,608.8 382.8,610.8 383.0,612.8 376.6,612.8 376.8,610.7Z"/>
<path fill="rgb(0,255,104)" fill-rule="evenodd" d="M344.3,455.8 345.8,456.0 346.8,456.7 348.8,459.9 349.9,463.8 350.9,471.8 352.7,477.8 352.0,480.8 349.1,483.8 348.8,484.8 349.0,490.8 348.2,492.8 346.1,495.8 345.2,501.8 341.5,505.8 340.1,509.8 338.8,516.4 337.8,517.8 334.4,520.8 332.3,525.8 329.8,527.0 324.8,525.7 322.8,526.4 319.8,528.8 317.8,529.2 316.8,528.8 314.8,526.8 311.8,525.5 310.2,523.8 309.8,518.8 307.3,514.8 307.5,512.8 309.1,508.8 308.2,505.8 308.2,503.8 308.8,502.5 312.4,498.8 312.8,493.1 316.8,489.2 318.8,484.3 323.7,480.8 325.0,477.8 326.6,475.8 330.8,473.9 332.1,472.8 341.8,457.7ZM129.6,497.8 133.8,497.0 138.8,497.7 145.8,500.3 152.8,504.2 165.8,513.6 177.8,524.2 181.0,527.8 183.0,532.8 183.0,536.8 180.8,550.8 178.8,557.1 176.2,562.8 170.4,571.8 162.8,580.9 157.7,585.8 151.8,592.7 148.8,595.0 146.8,595.8 141.8,595.7 134.8,596.9 132.8,596.1 130.8,594.4 126.8,588.4 121.8,578.1 119.5,571.8 117.7,564.8 116.7,551.8 117.5,537.8 116.9,525.8 117.9,516.8 119.8,509.6 122.6,503.8 125.8,500.1Z"/>
<path fill="rgb(0,255,63)" fill-rule="evenodd" d="M342.4,467.8 343.8,468.0 345.8,469.9 349.4,477.8 348.8,479.6 345.9,482.8 345.5,484.8 345.7,488.8 342.9,492.8 342.7,494.8 343.4,498.8 343.0,500.8 340.8,502.9 339.8,504.7 336.5,514.8 331.8,518.1 329.8,521.8 328.8,522.6 319.8,522.6 316.7,519.8 312.5,512.8 312.6,508.8 311.9,504.8 314.6,500.8 314.9,494.8 315.8,493.3 318.8,490.7 321.7,485.8 324.8,484.7 326.0,483.8 327.8,478.8 328.7,477.8 333.8,475.7 339.8,469.0ZM130.8,500.8 134.8,499.8 139.8,500.3 145.8,502.2 152.8,505.8 165.8,515.0 176.8,525.0 180.1,528.8 181.8,532.8 182.0,536.8 179.8,550.8 177.5,557.8 175.2,562.8 169.4,571.8 161.8,580.8 157.3,584.8 151.8,590.6 149.8,592.0 146.8,593.0 135.8,592.4 133.8,591.7 131.5,589.8 127.8,584.8 123.0,575.8 120.7,569.8 119.1,562.8 118.2,550.8 118.9,534.8 118.7,525.8 119.7,517.8 121.4,511.8 123.8,507.0 126.8,503.4Z"/>
<path fill="rgb(0,255,21)" fill-rule="evenodd" d="M338.1,479.8 339.8,479.4 340.8,480.3 341.6,486.8 340.1,492.8 339.9,498.8 336.8,506.8 333.7,511.8 326.8,518.2 324.8,519.2 322.8,518.8 318.4,515.8 315.7,510.8 315.8,507.9 317.9,505.8 318.7,503.8 317.4,499.8 317.5,495.8 319.0,493.8 322.8,491.1 326.8,490.8 327.8,490.3 332.7,485.8 335.8,481.5ZM134.0,502.8 137.8,502.4 142.8,503.1 148.8,505.3 153.8,508.0 165.0,515.8 175.8,525.8 179.2,529.8 180.7,533.8 180.7,537.8 178.7,550.8 176.1,558.8 174.1,562.8 168.3,571.8 160.8,580.4 151.8,588.3 149.8,589.6 146.8,590.5 141.8,590.4 136.8,589.2 133.8,587.3 130.8,584.2 127.6,579.8 123.8,572.8 121.8,567.2 120.1,559.8 119.6,546.8 120.3,534.8 120.2,527.8 121.7,517.8 123.8,512.0 126.5,507.8 129.8,504.7Z"/>
<path fill="rgb(23,255,0)" fill-rule="evenodd" d="M332.6,492.8 333.8,492.7 334.8,493.2 335.5,494.8 334.2,504.8 333.5,506.8 330.6,510.8 325.8,514.4 323.8,515.2 322.3,514.8 320.8,513.8 320.2,512.8 319.8,510.8 320.1,509.8 325.9,501.8 327.4,496.8ZM137.2,504.8 142.8,505.1 148.8,507.0 152.8,509.0 162.9,515.8 165.8,518.1 176.7,528.8 178.7,531.8 179.5,534.8 177.5,550.8 175.0,558.8 172.8,563.0 167.0,571.8 159.8,579.8 151.8,586.1 148.8,587.5 145.8,588.1 141.8,587.9 137.8,586.4 133.8,583.4 129.8,579.0 126.4,573.8 124.4,569.8 122.2,562.8 121.1,556.8 120.8,543.8 121.7,527.8 123.7,517.8 125.8,512.9 128.8,508.9 132.8,506.1Z"/>
<path fill="rgb(69,255,0)" fill-rule="evenodd" d="M135.0,507.8 138.8,506.9 142.8,507.1 147.8,508.4 152.8,510.7 164.8,519.0 175.5,529.8 176.9,531.8 178.0,534.8 177.9,538.8 176.4,549.8 174.1,557.8 171.8,562.6 166.5,570.8 159.8,578.1 151.8,583.9 146.8,585.6 142.8,585.6 139.8,584.6 135.8,582.0 131.8,578.2 128.5,573.8 125.8,568.8 123.7,562.8 122.5,557.8 122.0,542.8 123.1,527.8 124.0,522.8 125.5,517.8 127.8,513.5 130.8,510.3Z"/>
<path fill="rgb(114,255,0)" fill-rule="evenodd" d="M136.2,509.8 140.8,509.0 146.8,509.9 151.8,512.0 159.5,516.8 163.8,520.0 173.2,529.8 175.3,532.8 176.3,535.8 175.0,549.8 172.8,557.7 170.8,561.8 165.0,570.8 159.8,576.4 152.8,581.3 147.8,583.2 143.8,583.3 140.8,582.5 136.8,580.1 132.8,576.5 129.8,572.7 127.5,568.8 125.1,562.8 123.8,557.8 123.1,542.8 124.3,528.8 125.3,523.8 126.9,518.8 129.3,514.8 132.4,511.8Z"/>
<path fill="rgb(156,255,0)" fill-rule="evenodd" d="M137.0,511.8 141.8,511.1 146.8,511.9 151.8,514.0 158.2,517.8 163.3,521.8 170.7,529.8 173.4,533.8 174.3,536.8 174.2,542.8 173.2,549.8 171.5,556.8 169.2,561.8 164.1,569.8 159.8,574.4 153.8,578.8 150.8,580.3 147.8,581.1 143.8,581.0 140.8,580.1 137.0,577.8 133.8,574.9 130.8,571.3 128.2,566.8 126.2,561.8 124.9,556.8 124.2,542.8 125.4,529.8 126.4,524.8 127.8,520.7 130.0,516.8 132.8,514.0Z"/>
<path fill="rgb(194,255,0)" fill-rule="evenodd" d="M137.6,513.8 141.8,513.1 146.8,513.9 151.8,515.9 157.8,519.4 162.8,523.7 168.2,529.8 170.8,533.8 172.0,537.8 172.0,544.8 171.1,550.8 169.3,557.8 166.8,562.7 162.8,569.0 158.1,573.8 152.8,577.3 147.8,578.9 143.8,578.8 140.8,577.8 136.8,575.3 133.8,572.4 131.0,568.8 128.8,564.8 126.9,559.8 126.0,555.8 125.2,542.8 126.3,531.8 127.5,525.8 129.4,520.8 131.5,517.8 133.8,515.7Z"/>
<path fill="rgb(231,255,0)" fill-rule="evenodd" d="M138.0,515.8 141.8,515.2 145.8,515.6 151.8,517.8 156.8,520.7 161.4,524.8 165.7,529.8 168.2,533.8 169.5,537.8 169.9,542.8 169.6,547.8 167.9,555.8 165.9,560.8 161.8,567.5 158.8,570.9 153.8,574.7 148.8,576.7 144.8,576.8 141.8,576.1 138.8,574.5 135.8,572.1 132.8,568.7 130.4,564.8 128.2,559.8 127.2,555.8 126.3,543.8 127.1,533.8 128.3,527.8 129.8,523.4 131.8,520.0 134.8,517.3Z"/>
<path fill="rgb(255,240,0)" fill-rule="evenodd" d="M138.2,517.8 141.8,517.1 145.8,517.5 151.8,519.7 155.8,522.0 160.0,525.8 163.5,529.8 166.2,534.8 167.3,538.8 167.7,543.8 167.4,547.8 165.9,555.8 164.3,559.8 160.8,565.8 157.8,569.3 153.1,572.8 148.8,574.5 144.8,574.7 141.8,573.9 138.8,572.2 135.9,569.8 133.3,566.8 130.9,562.8 129.3,558.8 128.3,554.8 127.4,543.8 128.1,534.8 129.1,529.8 130.8,524.8 132.6,521.8 134.8,519.6Z"/>
<path fill="rgb(255,198,0)" fill-rule="evenodd" d="M138.5,519.8 141.8,519.1 145.8,519.3 150.8,520.9 154.8,523.1 158.8,526.8 162.0,530.8 164.0,534.8 165.2,538.8 165.7,543.8 165.4,547.8 163.9,555.8 162.2,559.8 158.8,565.3 155.8,568.5 151.8,571.2 147.8,572.5 144.8,572.5 141.8,571.7 138.8,570.0 136.3,567.8 133.8,564.8 131.8,561.4 129.3,553.8 128.5,543.8 129.9,531.8 131.6,526.8 133.3,523.8 135.8,521.2Z"/>
<path fill="rgb(255,157,0)" fill-rule="evenodd" d="M138.9,521.8 141.8,521.0 145.8,521.1 149.8,522.2 153.8,524.3 156.8,526.9 160.0,530.8 162.1,534.8 163.2,538.8 163.8,543.8 163.6,547.8 162.2,554.8 160.7,558.8 157.8,563.6 154.8,566.8 150.8,569.3 147.8,570.3 144.8,570.3 141.8,569.4 136.8,565.9 132.7,559.8 130.5,552.8 129.7,543.8 131.1,532.8 134.1,525.8 135.8,523.8Z"/>
<path fill="rgb(255,113,0)" fill-rule="evenodd" d="M142.9,522.8 145.8,522.8 149.8,523.8 152.8,525.4 155.6,527.8 158.0,530.8 159.7,533.8 161.1,537.8 161.8,541.8 161.9,546.8 161.1,551.8 160.0,555.8 158.1,559.8 155.8,563.0 152.8,565.8 149.8,567.4 146.8,568.1 143.8,567.8 141.8,567.1 138.8,565.2 136.5,562.8 134.5,559.8 132.8,556.1 131.1,547.8 131.6,537.8 132.4,533.8 133.8,530.0 135.8,526.8 137.8,524.8 139.8,523.6Z"/>
<path fill="rgb(255,63,0)" fill-rule="evenodd" d="M143.1,524.8 145.8,524.6 148.8,525.2 151.8,526.6 153.8,528.2 156.0,530.8 157.8,533.8 159.3,537.8 160.0,541.8 160.1,545.8 159.5,550.8 157.0,557.8 155.0,560.8 152.8,563.1 149.8,564.9 146.8,565.7 143.8,565.4 141.8,564.6 139.8,563.3 137.3,560.8 134.0,554.8 132.6,547.8 132.8,539.8 134.8,532.4 136.8,528.9 138.8,526.8Z"/>
<path fill="rgb(255,14,0)" fill-rule="evenodd" d="M144.1,526.8 146.8,526.7 149.8,527.5 153.8,530.8 156.8,536.3 158.1,542.8 157.5,550.8 155.2,556.8 151.8,560.9 149.8,562.2 146.8,563.0 144.1,562.8 141.8,561.9 138.4,558.8 135.6,553.8 134.1,546.8 134.5,539.8 136.4,533.8 139.8,529.1 141.8,527.7Z"/>
<path fill="rgb(255,0,0)" fill-rule="evenodd" d="M143.5,529.8 145.8,529.1 147.8,529.3 149.8,530.1 151.8,531.8 154.3,535.8 155.8,541.8 155.5,548.8 153.8,554.2 150.8,558.1 148.8,559.4 146.8,559.9 144.8,559.9 142.8,559.1 139.8,556.6 137.2,551.8 136.1,546.8 136.3,541.8 137.8,536.3 140.8,531.8Z"/>
<path fill="rgb(255,0,0)" fill-rule="evenodd" d="M146.0,532.8 148.8,533.5 151.0,535.8 152.5,539.8 153.0,544.8 152.5,548.8 150.8,552.8 148.8,554.9 145.8,555.9 142.8,554.7 140.8,552.5 139.2,548.8 138.7,544.8 139.3,540.8 140.9,536.8 143.6,533.8Z"/></g>
<path d="M125.9,611.8 L123.5,608.5" fill="none" stroke="#fff" stroke-width="1.35" stroke-linecap="round"/><path d="M114.7,596.7C113.9,595.8 111.6,593.1 110.0,591.1C108.4,589.1 106.5,587.4 105.2,584.8C103.9,582.2 102.5,578.5 102.0,575.3C101.5,572.1 101.6,569.2 102.0,565.7C102.4,562.2 103.7,558.3 104.4,554.6C105.1,550.9 105.9,546.9 106.0,543.5C106.1,540.1 105.9,537.3 105.2,534.0C104.5,530.7 103.0,527.1 102.0,523.8C101.0,520.5 99.7,517.2 98.9,514.3C98.1,511.4 97.6,507.7 97.3,506.4" fill="none" stroke="#fff" stroke-width="1.35" stroke-linecap="round"/><path d="M98.9,488.9C99.3,487.6 100.0,483.9 101.3,481.0C102.6,478.1 104.6,474.4 106.8,471.5C109.0,468.6 112.0,465.1 114.7,463.5C117.4,461.9 120.3,461.6 122.7,461.6C125.1,461.6 126.9,462.2 129.0,463.5C131.1,464.8 132.5,466.7 135.4,469.1C138.3,471.5 142.5,474.6 146.5,477.8C150.5,481.0 155.0,484.5 159.2,488.1C163.4,491.7 167.9,495.8 171.9,499.2C175.9,502.6 180.0,505.8 183.0,508.8C186.0,511.8 188.2,514.5 190.0,517.0C191.8,519.5 192.9,522.4 193.5,523.5" fill="none" stroke="#fff" stroke-width="1.35" stroke-linecap="round"/><path d="M191.7,545.0C191.0,547.2 188.9,553.6 187.5,558.0C186.1,562.4 184.8,568.1 183.0,571.3C181.2,574.4 179.1,574.9 176.7,576.9C174.3,578.9 171.3,580.8 168.7,583.2C166.0,585.6 162.7,588.5 160.8,591.1C159.0,593.8 158.3,596.5 157.6,599.1C156.9,601.8 156.8,604.9 156.8,607.0C156.8,609.1 157.5,611.0 157.6,611.8" fill="none" stroke="#fff" stroke-width="1.35" stroke-linecap="round"/><path d="M321.4,454.3C320.5,455.8 318.2,460.4 316.2,463.3C314.2,466.2 312.0,469.0 309.5,471.9C307.0,474.8 303.9,477.6 301.0,480.5C298.1,483.4 294.9,486.0 292.4,489.0C289.8,492.0 287.3,495.2 285.7,498.6C284.1,502.0 283.4,506.1 282.9,509.5C282.4,512.9 282.8,516.0 282.9,519.0C283.0,522.0 283.6,526.2 283.8,527.6" fill="none" stroke="#fff" stroke-width="1.35" stroke-linecap="round"/><path d="M287.6,549.5C288.1,550.5 289.2,553.6 290.5,555.2C291.8,556.8 293.3,558.4 295.2,559.0C297.1,559.6 299.2,559.1 301.9,558.6C304.6,558.1 307.9,556.7 311.4,555.7C314.9,554.8 319.2,553.6 322.9,552.9C326.5,552.2 330.4,551.7 333.3,551.4C336.2,551.1 337.8,551.1 340.0,551.0C342.2,550.9 344.6,551.3 346.5,550.7C348.4,550.1 350.3,549.2 351.3,547.5C352.3,545.8 352.3,542.7 352.4,540.3C352.5,537.9 351.9,536.0 352.1,533.1C352.3,530.2 352.7,526.1 353.6,522.6C354.5,519.1 356.0,515.0 357.4,512.1C358.8,509.2 360.5,507.4 362.0,505.5C363.5,503.6 365.1,502.2 366.5,500.5C367.9,498.8 369.6,496.6 370.7,495.0C371.8,493.4 372.1,492.9 373.3,491.0C374.5,489.1 376.7,485.7 378.1,483.3C379.5,480.9 381.3,477.8 381.9,476.7" fill="none" stroke="#fff" stroke-width="1.35" stroke-linecap="round"/><path d="M391.9,458.1 L394.3,454.3" fill="none" stroke="#fff" stroke-width="1.35" stroke-linecap="round"/><path d="M346.5,611.8 L347.0,609.0" fill="none" stroke="#fff" stroke-width="1.35" stroke-linecap="round"/><path d="M351.3,589.6C352.4,588.0 355.5,583.2 357.6,580.0C359.7,576.8 362.1,572.6 364.0,570.5C365.9,568.4 366.8,567.4 368.7,567.3C370.6,567.2 372.6,568.5 375.1,569.7C377.6,570.9 380.7,571.6 383.9,574.6C387.1,577.6 390.9,582.9 394.4,587.7C397.9,592.5 402.3,599.3 404.9,603.4C407.5,607.5 409.2,611.0 410.1,612.5" fill="none" stroke="#fff" stroke-width="1.35" stroke-linecap="round"/><text transform="translate(100,497.5) rotate(-82)" font-size="7.6" font-family="Liberation Sans" font-style="italic" font-weight="normal" fill="#fff" fill-opacity="0.9" text-anchor="middle" letter-spacing="0.45">99.9%</text><text transform="translate(193,535) rotate(-88)" font-size="7.6" font-family="Liberation Sans" font-style="italic" font-weight="normal" fill="#fff" fill-opacity="0.9" text-anchor="middle" letter-spacing="0.45">99.9%</text><text transform="translate(119,604) rotate(48)" font-size="7.6" font-family="Liberation Sans" font-style="italic" font-weight="normal" fill="#fff" fill-opacity="0.9" text-anchor="middle" letter-spacing="0.45">99.9%</text><text transform="translate(284.5,538.6) rotate(82)" font-size="7.6" font-family="Liberation Sans" font-style="italic" font-weight="normal" fill="#fff" fill-opacity="0.9" text-anchor="middle" letter-spacing="0.45">99.9%</text><text transform="translate(345,602) rotate(80)" font-size="7.6" font-family="Liberation Sans" font-style="italic" font-weight="normal" fill="#fff" fill-opacity="0.9" text-anchor="middle" letter-spacing="0.45">99.9%</text><text transform="translate(387.5,468) rotate(-57)" font-size="7.6" font-family="Liberation Sans" font-style="italic" font-weight="normal" fill="#fff" fill-opacity="0.9" text-anchor="middle" letter-spacing="0.45">99.9%</text>
<polygon points="82.8,453.8 132.0,453.8 123.2,612.6 82.8,612.6" fill="url(#xh2)"/>
<polygon points="393.2,453.8 441.0,453.8 441.0,612.6 405.5,612.6" fill="url(#xh2)"/>
<path d="M132,453.8L123.2,612.6M393.2,453.8L405.5,612.6" stroke="#c8c800" stroke-width="0.8" fill="none"/>
<path d="M90.4,453.8V612.6" stroke="#fff" stroke-width="1.15"/><path d="M256.9,453.8V612.6" stroke="#d4d4d4" stroke-width="1.7"/>
<path d="M82.8,610.6h-3.4M82.8,607.0h-6.2M82.8,603.4h-3.4M82.8,599.7h-3.4M82.8,596.1h-3.4M82.8,592.4h-3.4M82.8,588.8h-3.4M82.8,585.2h-3.4M82.8,581.5h-3.4M82.8,577.9h-3.4M82.8,574.2h-3.4M82.8,570.6h-6.2M82.8,567.0h-3.4M82.8,563.3h-3.4M82.8,559.7h-3.4M82.8,556.0h-3.4M82.8,552.4h-3.4M82.8,548.8h-3.4M82.8,545.1h-3.4M82.8,541.5h-3.4M82.8,537.8h-3.4M82.8,534.2h-6.2M82.8,530.6h-3.4M82.8,526.9h-3.4M82.8,523.3h-3.4M82.8,519.6h-3.4M82.8,516.0h-3.4M82.8,512.4h-3.4M82.8,508.7h-3.4M82.8,505.1h-3.4M82.8,501.4h-3.4M82.8,497.8h-6.2M82.8,494.2h-3.4M82.8,490.5h-3.4M82.8,486.9h-3.4M82.8,483.2h-3.4M82.8,479.6h-3.4M82.8,476.0h-3.4M82.8,472.3h-3.4M82.8,468.7h-3.4M82.8,465.0h-3.4M82.8,461.4h-6.2M82.8,457.8h-3.4M82.8,454.1h-3.4" stroke="#000" stroke-width="1.25"/><text x="73.5" y="465.50" font-size="9.6" font-family="'Liberation Sans',sans-serif" font-style="italic" font-weight="normal" stroke="#000" stroke-width="0.5" letter-spacing="1.45" text-anchor="end">200</text><text x="73.5" y="501.90" font-size="9.6" font-family="'Liberation Sans',sans-serif" font-style="italic" font-weight="normal" stroke="#000" stroke-width="0.5" letter-spacing="1.45" text-anchor="end">190</text><text x="73.5" y="538.30" font-size="9.6" font-family="'Liberation Sans',sans-serif" font-style="italic" font-weight="normal" stroke="#000" stroke-width="0.5" letter-spacing="1.45" text-anchor="end">180</text><text x="73.5" y="574.70" font-size="9.6" font-family="'Liberation Sans',sans-serif" font-style="italic" font-weight="normal" stroke="#000" stroke-width="0.5" letter-spacing="1.45" text-anchor="end">170</text><text x="73.5" y="611.10" font-size="9.6" font-family="'Liberation Sans',sans-serif" font-style="italic" font-weight="normal" stroke="#000" stroke-width="0.5" letter-spacing="1.45" text-anchor="end">160</text>
<path d="M439.9,453.8V612.6" stroke="#b8b8b8" stroke-width="1.6"/><path d="M441.6,453.3V613" stroke="#000" stroke-width="1.6"/>
<path d="M441.3,610.6h3.4M441.3,607.0h6.2M441.3,603.4h3.4M441.3,599.7h3.4M441.3,596.1h3.4M441.3,592.4h3.4M441.3,588.8h3.4M441.3,585.2h3.4M441.3,581.5h3.4M441.3,577.9h3.4M441.3,574.2h3.4M441.3,570.6h6.2M441.3,567.0h3.4M441.3,563.3h3.4M441.3,559.7h3.4M441.3,556.0h3.4M441.3,552.4h3.4M441.3,548.8h3.4M441.3,545.1h3.4M441.3,541.5h3.4M441.3,537.8h3.4M441.3,534.2h6.2M441.3,530.6h3.4M441.3,526.9h3.4M441.3,523.3h3.4M441.3,519.6h3.4M441.3,516.0h3.4M441.3,512.4h3.4M441.3,508.7h3.4M441.3,505.1h3.4M441.3,501.4h3.4M441.3,497.8h6.2M441.3,494.2h3.4M441.3,490.5h3.4M441.3,486.9h3.4M441.3,483.2h3.4M441.3,479.6h3.4M441.3,476.0h3.4M441.3,472.3h3.4M441.3,468.7h3.4M441.3,465.0h3.4M441.3,461.4h6.2M441.3,457.8h3.4M441.3,454.1h3.4" stroke="#000" stroke-width="1.25"/>
<path d="M82.5,453.8H441.5M82.5,612.7H441.5" stroke="#000" stroke-width="1.1"/>
<path d="M85.7,453.5v-2.0M101.4,453.5v-2.0M117.1,453.5v-2.0M132.8,453.5v-2.0M148.6,453.5v-2.0M164.3,453.5v-2.0M180.0,453.5v-2.0M195.7,453.5v-2.0M211.4,453.5v-2.0M227.2,453.5v-2.0M242.9,453.5v-2.0M258.6,453.5v-2.0M274.3,453.5v-2.0M290.0,453.5v-2.0M305.8,453.5v-2.0M321.5,453.5v-2.0M337.2,453.5v-2.0M352.9,453.5v-2.0M368.6,453.5v-2.0M384.4,453.5v-2.0M400.1,453.5v-2.0M415.8,453.5v-2.0M431.5,453.5v-2.0" stroke="#000" stroke-width="1.1"/>
<path d="M85.7,613v2.0M101.4,613v2.0M117.1,613v2.0M132.8,613v2.0M148.6,613v2.0M164.3,613v2.0M180.0,613v2.0M195.7,613v2.0M211.4,613v2.0M227.2,613v2.0M242.9,613v2.0M258.6,613v2.0M274.3,613v2.0M290.0,613v2.0M305.8,613v2.0M321.5,613v2.0M337.2,613v2.0M352.9,613v2.0M368.6,613v2.0M384.4,613v2.0M400.1,613v2.0M415.8,613v2.0M431.5,613v2.0" stroke="#000" stroke-width="1.1"/>
<text transform="translate(42.3,533.5) rotate(-90)" font-size="11.5" font-family="'Liberation Serif',serif" font-style="italic" font-weight="normal" stroke="#000" stroke-width="0.35" text-anchor="middle" textLength="94.5">Timescale (day)</text>
<text x="102.4" y="631.3" font-size="9.6" font-family="'Liberation Sans',sans-serif" font-style="italic" font-weight="normal" stroke="#000" stroke-width="0.5" text-anchor="middle" letter-spacing="1.45">1955</text>
<text x="181.0" y="631.3" font-size="9.6" font-family="'Liberation Sans',sans-serif" font-style="italic" font-weight="normal" stroke="#000" stroke-width="0.5" text-anchor="middle" letter-spacing="1.45">1960</text>
<text x="259.6" y="631.3" font-size="9.6" font-family="'Liberation Sans',sans-serif" font-style="italic" font-weight="normal" stroke="#000" stroke-width="0.5" text-anchor="middle" letter-spacing="1.45">1965</text>
<text x="338.20000000000005" y="631.3" font-size="9.6" font-family="'Liberation Sans',sans-serif" font-style="italic" font-weight="normal" stroke="#000" stroke-width="0.5" text-anchor="middle" letter-spacing="1.45">1970</text>
<text x="416.80000000000007" y="631.3" font-size="9.6" font-family="'Liberation Sans',sans-serif" font-style="italic" font-weight="normal" stroke="#000" stroke-width="0.5" text-anchor="middle" letter-spacing="1.45">1975</text>
<text x="262.3" y="644" font-size="11.5" font-family="'Liberation Serif',serif" font-style="italic" font-weight="normal" stroke="#000" stroke-width="0.35" text-anchor="middle" textLength="69">Time (year)</text>
<rect x="465.4" y="280.3" width="161.80000000000007" height="158.39999999999998" fill="#fff" stroke="#000" stroke-width="1.1"/><clipPath id="cp280"><rect x="465.4" y="280.3" width="161.80000000000007" height="158.39999999999998"/></clipPath><g clip-path="url(#cp280)"><path d="M493.8,280.4C494.8,281.4 496.4,283.7 500.0,286.6C503.6,289.4 509.3,293.8 515.5,297.4C521.7,301.0 529.9,304.9 537.1,308.2C544.4,311.6 552.1,314.7 558.8,317.5C565.5,320.4 572.5,322.7 577.4,325.3C582.3,327.8 586.1,330.2 588.2,333.0C590.3,335.8 590.5,339.2 589.8,342.3C589.0,345.4 586.1,348.5 583.6,351.6C581.0,354.7 576.2,357.8 574.3,360.9C572.3,364.0 571.8,367.3 571.8,370.1C571.8,373.0 572.3,375.0 574.3,377.9C576.2,380.7 579.4,384.3 583.6,387.2C587.7,390.0 594.1,392.3 599.0,394.9C603.9,397.5 609.5,399.8 613.0,402.6C616.4,405.5 619.0,409.3 619.8,411.9C620.6,414.5 620.0,416.1 617.6,418.1C615.2,420.2 610.9,422.5 605.2,424.3C599.6,426.1 591.3,427.2 583.6,429.0C575.8,430.7 565.8,433.0 558.8,434.5C551.8,436.1 544.6,437.6 541.8,438.2" fill="none" stroke="#0a0aff" stroke-width="1.45" stroke-dasharray="6.4,4.1"/><path d="M505.6,280.4C504.4,281.5 500.9,284.4 498.5,287.2C496.0,290.0 493.6,293.9 490.7,297.4C487.9,300.9 484.0,304.6 481.4,308.2C478.8,311.8 476.5,315.7 475.2,319.1C473.9,322.4 473.5,325.0 473.7,328.4C473.8,331.7 474.4,335.6 476.2,339.2C478.0,342.8 481.1,346.7 484.5,350.0C488.0,353.4 492.8,356.2 496.9,359.3C501.0,362.4 505.4,365.2 509.3,368.6C513.2,371.9 517.4,375.6 520.1,379.4C522.8,383.3 524.6,387.9 525.4,391.8C526.2,395.7 525.6,399.0 524.8,402.6C523.9,406.3 522.2,410.1 520.1,413.5C518.1,416.8 515.5,419.7 512.4,422.8C509.3,425.9 504.9,429.5 501.5,432.0C498.2,434.6 493.8,437.2 492.3,438.2" fill="none" stroke="#ff0a0a" stroke-width="1.45" stroke-dasharray="6.4,4.1"/></g><path d="M465.4,438.4h-1.8M627.2,438.4h1.8M465.4,435.3h-2.9M627.2,435.3h2.9M465.4,432.2h-1.8M627.2,432.2h1.8M465.4,429.2h-1.8M627.2,429.2h1.8M465.4,426.1h-1.8M627.2,426.1h1.8M465.4,423.0h-1.8M627.2,423.0h1.8M465.4,420.0h-1.8M627.2,420.0h1.8M465.4,416.9h-1.8M627.2,416.9h1.8M465.4,413.8h-1.8M627.2,413.8h1.8M465.4,410.7h-1.8M627.2,410.7h1.8M465.4,407.7h-1.8M627.2,407.7h1.8M465.4,404.6h-2.9M627.2,404.6h2.9M465.4,401.5h-1.8M627.2,401.5h1.8M465.4,398.5h-1.8M627.2,398.5h1.8M465.4,395.4h-1.8M627.2,395.4h1.8M465.4,392.3h-1.8M627.2,392.3h1.8M465.4,389.2h-1.8M627.2,389.2h1.8M465.4,386.2h-1.8M627.2,386.2h1.8M465.4,383.1h-1.8M627.2,383.1h1.8M465.4,380.0h-1.8M627.2,380.0h1.8M465.4,377.0h-1.8M627.2,377.0h1.8M465.4,373.9h-2.9M627.2,373.9h2.9M465.4,370.8h-1.8M627.2,370.8h1.8M465.4,367.8h-1.8M627.2,367.8h1.8M465.4,364.7h-1.8M627.2,364.7h1.8M465.4,361.6h-1.8M627.2,361.6h1.8M465.4,358.6h-1.8M627.2,358.6h1.8M465.4,355.5h-1.8M627.2,355.5h1.8M465.4,352.4h-1.8M627.2,352.4h1.8M465.4,349.3h-1.8M627.2,349.3h1.8M465.4,346.3h-1.8M627.2,346.3h1.8M465.4,343.2h-2.9M627.2,343.2h2.9M465.4,340.1h-1.8M627.2,340.1h1.8M465.4,337.1h-1.8M627.2,337.1h1.8M465.4,334.0h-1.8M627.2,334.0h1.8M465.4,330.9h-1.8M627.2,330.9h1.8M465.4,327.9h-1.8M627.2,327.9h1.8M465.4,324.8h-1.8M627.2,324.8h1.8M465.4,321.7h-1.8M627.2,321.7h1.8M465.4,318.6h-1.8M627.2,318.6h1.8M465.4,315.6h-1.8M627.2,315.6h1.8M465.4,312.5h-2.9M627.2,312.5h2.9M465.4,309.4h-1.8M627.2,309.4h1.8M465.4,306.4h-1.8M627.2,306.4h1.8M465.4,303.3h-1.8M627.2,303.3h1.8M465.4,300.2h-1.8M627.2,300.2h1.8M465.4,297.2h-1.8M627.2,297.2h1.8M465.4,294.1h-1.8M627.2,294.1h1.8M465.4,291.0h-1.8M627.2,291.0h1.8M465.4,287.9h-1.8M627.2,287.9h1.8M465.4,284.9h-1.8M627.2,284.9h1.8M465.4,281.8h-2.9M627.2,281.8h2.9M465.4,280.3v-2.3M465.4,438.7v2.3M470.0,280.3v-1.3M470.0,438.7v1.3M474.6,280.3v-1.3M474.6,438.7v1.3M479.3,280.3v-1.3M479.3,438.7v1.3M483.9,280.3v-1.3M483.9,438.7v1.3M488.5,280.3v-2.3M488.5,438.7v2.3M493.1,280.3v-1.3M493.1,438.7v1.3M497.7,280.3v-1.3M497.7,438.7v1.3M502.4,280.3v-1.3M502.4,438.7v1.3M507.0,280.3v-1.3M507.0,438.7v1.3M511.6,280.3v-2.3M511.6,438.7v2.3M516.2,280.3v-1.3M516.2,438.7v1.3M520.8,280.3v-1.3M520.8,438.7v1.3M525.5,280.3v-1.3M525.5,438.7v1.3M530.1,280.3v-1.3M530.1,438.7v1.3M534.7,280.3v-2.3M534.7,438.7v2.3M539.3,280.3v-1.3M539.3,438.7v1.3M543.9,280.3v-1.3M543.9,438.7v1.3M548.6,280.3v-1.3M548.6,438.7v1.3M553.2,280.3v-1.3M553.2,438.7v1.3M557.8,280.3v-2.3M557.8,438.7v2.3M562.4,280.3v-1.3M562.4,438.7v1.3M567.0,280.3v-1.3M567.0,438.7v1.3M571.7,280.3v-1.3M571.7,438.7v1.3M576.3,280.3v-1.3M576.3,438.7v1.3M580.9,280.3v-2.3M580.9,438.7v2.3M585.5,280.3v-1.3M585.5,438.7v1.3M590.1,280.3v-1.3M590.1,438.7v1.3M594.8,280.3v-1.3M594.8,438.7v1.3M599.4,280.3v-1.3M599.4,438.7v1.3M604.0,280.3v-2.3M604.0,438.7v2.3M608.6,280.3v-1.3M608.6,438.7v1.3M613.2,280.3v-1.3M613.2,438.7v1.3M617.9,280.3v-1.3M617.9,438.7v1.3M622.5,280.3v-1.3M622.5,438.7v1.3M627.1,280.3v-2.3M627.1,438.7v2.3" stroke="#000" stroke-width="0.9"/><text x="460.79999999999995" y="284.5" font-size="5.8" font-family="'Liberation Sans',sans-serif" font-style="italic" font-weight="bold" text-anchor="end" letter-spacing="0.5">200</text><text x="460.79999999999995" y="315.2" font-size="5.8" font-family="'Liberation Sans',sans-serif" font-style="italic" font-weight="bold" text-anchor="end" letter-spacing="0.5">190</text><text x="460.79999999999995" y="345.9" font-size="5.8" font-family="'Liberation Sans',sans-serif" font-style="italic" font-weight="bold" text-anchor="end" letter-spacing="0.5">180</text><text x="460.79999999999995" y="376.59999999999997" font-size="5.8" font-family="'Liberation Sans',sans-serif" font-style="italic" font-weight="bold" text-anchor="end" letter-spacing="0.5">170</text><text x="460.79999999999995" y="407.3" font-size="5.8" font-family="'Liberation Sans',sans-serif" font-style="italic" font-weight="bold" text-anchor="end" letter-spacing="0.5">160</text><text x="460.79999999999995" y="438.0" font-size="5.8" font-family="'Liberation Sans',sans-serif" font-style="italic" font-weight="bold" text-anchor="end" letter-spacing="0.5">150</text>
<rect x="465.4" y="454.1" width="161.80000000000007" height="157.79999999999995" fill="#fff" stroke="#000" stroke-width="1.1"/><clipPath id="cp454"><rect x="465.4" y="454.1" width="161.80000000000007" height="157.79999999999995"/></clipPath><g clip-path="url(#cp454)"><path d="M473.7,454.8C474.2,456.4 475.0,461.2 476.8,464.7C478.6,468.1 481.2,471.9 484.5,475.5C487.9,479.1 491.7,482.7 496.9,486.3C502.1,489.9 509.3,494.1 515.5,497.2C521.7,500.3 527.3,502.1 534.0,504.9C540.8,507.7 548.5,511.2 555.7,514.2C562.9,517.2 570.9,519.8 577.4,522.9C583.8,526.0 590.3,529.6 594.4,532.8C598.5,536.0 600.7,539.5 602.1,542.0C603.5,544.6 603.5,545.9 602.8,548.2C602.0,550.6 600.7,553.1 597.5,556.0C594.3,558.8 589.5,562.2 583.6,565.3C577.6,568.4 569.6,571.7 561.9,574.5C554.2,577.4 545.4,579.4 537.1,582.3C528.9,585.1 519.6,588.7 512.4,591.6C505.2,594.4 498.2,597.0 493.8,599.3C489.4,601.6 487.6,603.3 486.1,605.5C484.5,607.7 484.8,611.4 484.5,612.6" fill="none" stroke="#0a0aff" stroke-width="1.45" stroke-dasharray="6.4,4.1"/><path d="M513.9,454.8C515.0,456.2 518.2,459.9 520.1,463.1C522.0,466.3 524.1,470.1 525.4,474.0C526.7,477.8 527.5,481.9 527.9,486.3C528.2,490.7 528.0,495.6 527.2,500.3C526.5,504.9 525.2,509.5 523.2,514.2C521.3,518.8 518.8,523.7 515.5,528.1C512.1,532.5 507.2,536.4 503.1,540.5C499.0,544.6 494.3,548.8 490.7,552.9C487.1,557.0 483.2,561.9 481.4,565.3C479.6,568.6 479.4,570.2 479.9,573.0C480.4,575.8 481.9,579.2 484.5,582.3C487.1,585.4 491.7,588.5 495.4,591.6C499.0,594.7 503.6,598.0 506.2,600.9C508.8,603.7 509.8,606.6 510.8,608.6C511.9,610.6 512.1,611.9 512.4,612.6" fill="none" stroke="#ff0a0a" stroke-width="1.45" stroke-dasharray="6.4,4.1"/></g><path d="M465.4,610.6h-2.4M627.2,610.6h2.4M465.4,606.8h-1.4M627.2,606.8h1.4M465.4,602.9h-1.4M627.2,602.9h1.4M465.4,599.1h-1.4M627.2,599.1h1.4M465.4,595.2h-1.4M627.2,595.2h1.4M465.4,591.4h-1.4M627.2,591.4h1.4M465.4,587.5h-1.4M627.2,587.5h1.4M465.4,583.6h-1.4M627.2,583.6h1.4M465.4,579.8h-1.4M627.2,579.8h1.4M465.4,576.0h-1.4M627.2,576.0h1.4M465.4,572.1h-2.4M627.2,572.1h2.4M465.4,568.2h-1.4M627.2,568.2h1.4M465.4,564.4h-1.4M627.2,564.4h1.4M465.4,560.6h-1.4M627.2,560.6h1.4M465.4,556.7h-1.4M627.2,556.7h1.4M465.4,552.9h-1.4M627.2,552.9h1.4M465.4,549.0h-1.4M627.2,549.0h1.4M465.4,545.1h-1.4M627.2,545.1h1.4M465.4,541.3h-1.4M627.2,541.3h1.4M465.4,537.5h-1.4M627.2,537.5h1.4M465.4,533.6h-2.4M627.2,533.6h2.4M465.4,529.8h-1.4M627.2,529.8h1.4M465.4,525.9h-1.4M627.2,525.9h1.4M465.4,522.1h-1.4M627.2,522.1h1.4M465.4,518.2h-1.4M627.2,518.2h1.4M465.4,514.4h-1.4M627.2,514.4h1.4M465.4,510.5h-1.4M627.2,510.5h1.4M465.4,506.7h-1.4M627.2,506.7h1.4M465.4,502.8h-1.4M627.2,502.8h1.4M465.4,499.0h-1.4M627.2,499.0h1.4M465.4,495.1h-2.4M627.2,495.1h2.4M465.4,491.2h-1.4M627.2,491.2h1.4M465.4,487.4h-1.4M627.2,487.4h1.4M465.4,483.6h-1.4M627.2,483.6h1.4M465.4,479.7h-1.4M627.2,479.7h1.4M465.4,475.9h-1.4M627.2,475.9h1.4M465.4,472.0h-1.4M627.2,472.0h1.4M465.4,468.2h-1.4M627.2,468.2h1.4M465.4,464.3h-1.4M627.2,464.3h1.4M465.4,460.5h-1.4M627.2,460.5h1.4M465.4,456.6h-2.4M627.2,456.6h2.4M465.4,454.1v-1.8M465.4,611.9v1.8M468.1,454.1v-0.9M468.1,611.9v0.9M470.8,454.1v-0.9M470.8,611.9v0.9M473.5,454.1v-0.9M473.5,611.9v0.9M476.2,454.1v-0.9M476.2,611.9v0.9M478.9,454.1v-0.9M478.9,611.9v0.9M481.6,454.1v-0.9M481.6,611.9v0.9M484.3,454.1v-0.9M484.3,611.9v0.9M487.0,454.1v-0.9M487.0,611.9v0.9M489.7,454.1v-0.9M489.7,611.9v0.9M492.4,454.1v-1.8M492.4,611.9v1.8M495.1,454.1v-0.9M495.1,611.9v0.9M497.8,454.1v-0.9M497.8,611.9v0.9M500.5,454.1v-0.9M500.5,611.9v0.9M503.2,454.1v-0.9M503.2,611.9v0.9M505.9,454.1v-0.9M505.9,611.9v0.9M508.6,454.1v-0.9M508.6,611.9v0.9M511.3,454.1v-0.9M511.3,611.9v0.9M514.0,454.1v-0.9M514.0,611.9v0.9M516.7,454.1v-0.9M516.7,611.9v0.9M519.4,454.1v-1.8M519.4,611.9v1.8M522.1,454.1v-0.9M522.1,611.9v0.9M524.8,454.1v-0.9M524.8,611.9v0.9M527.5,454.1v-0.9M527.5,611.9v0.9M530.2,454.1v-0.9M530.2,611.9v0.9M532.9,454.1v-0.9M532.9,611.9v0.9M535.6,454.1v-0.9M535.6,611.9v0.9M538.3,454.1v-0.9M538.3,611.9v0.9M541.0,454.1v-0.9M541.0,611.9v0.9M543.7,454.1v-0.9M543.7,611.9v0.9M546.4,454.1v-1.8M546.4,611.9v1.8M549.1,454.1v-0.9M549.1,611.9v0.9M551.8,454.1v-0.9M551.8,611.9v0.9M554.5,454.1v-0.9M554.5,611.9v0.9M557.2,454.1v-0.9M557.2,611.9v0.9M559.9,454.1v-0.9M559.9,611.9v0.9M562.6,454.1v-0.9M562.6,611.9v0.9M565.3,454.1v-0.9M565.3,611.9v0.9M568.0,454.1v-0.9M568.0,611.9v0.9M570.7,454.1v-0.9M570.7,611.9v0.9M573.4,454.1v-1.8M573.4,611.9v1.8M576.1,454.1v-0.9M576.1,611.9v0.9M578.8,454.1v-0.9M578.8,611.9v0.9M581.5,454.1v-0.9M581.5,611.9v0.9M584.2,454.1v-0.9M584.2,611.9v0.9M586.9,454.1v-0.9M586.9,611.9v0.9M589.6,454.1v-0.9M589.6,611.9v0.9M592.3,454.1v-0.9M592.3,611.9v0.9M595.0,454.1v-0.9M595.0,611.9v0.9M597.7,454.1v-0.9M597.7,611.9v0.9M600.4,454.1v-1.8M600.4,611.9v1.8M603.1,454.1v-0.9M603.1,611.9v0.9M605.8,454.1v-0.9M605.8,611.9v0.9M608.5,454.1v-0.9M608.5,611.9v0.9M611.2,454.1v-0.9M611.2,611.9v0.9M613.9,454.1v-0.9M613.9,611.9v0.9M616.6,454.1v-0.9M616.6,611.9v0.9M619.3,454.1v-0.9M619.3,611.9v0.9M622.0,454.1v-0.9M622.0,611.9v0.9M624.7,454.1v-0.9M624.7,611.9v0.9M627.4,454.1v-1.8M627.4,611.9v1.8" stroke="#000" stroke-width="0.9"/><text x="460.79999999999995" y="459.3" font-size="5.8" font-family="'Liberation Sans',sans-serif" font-style="italic" font-weight="bold" text-anchor="end" letter-spacing="0.5">200</text><text x="460.79999999999995" y="497.8" font-size="5.8" font-family="'Liberation Sans',sans-serif" font-style="italic" font-weight="bold" text-anchor="end" letter-spacing="0.5">190</text><text x="460.79999999999995" y="536.3000000000001" font-size="5.8" font-family="'Liberation Sans',sans-serif" font-style="italic" font-weight="bold" text-anchor="end" letter-spacing="0.5">180</text><text x="460.79999999999995" y="574.8000000000001" font-size="5.8" font-family="'Liberation Sans',sans-serif" font-style="italic" font-weight="bold" text-anchor="end" letter-spacing="0.5">170</text><text x="460.79999999999995" y="613.3000000000001" font-size="5.8" font-family="'Liberation Sans',sans-serif" font-style="italic" font-weight="bold" text-anchor="end" letter-spacing="0.5">160</text>
</svg></div></body></html>
